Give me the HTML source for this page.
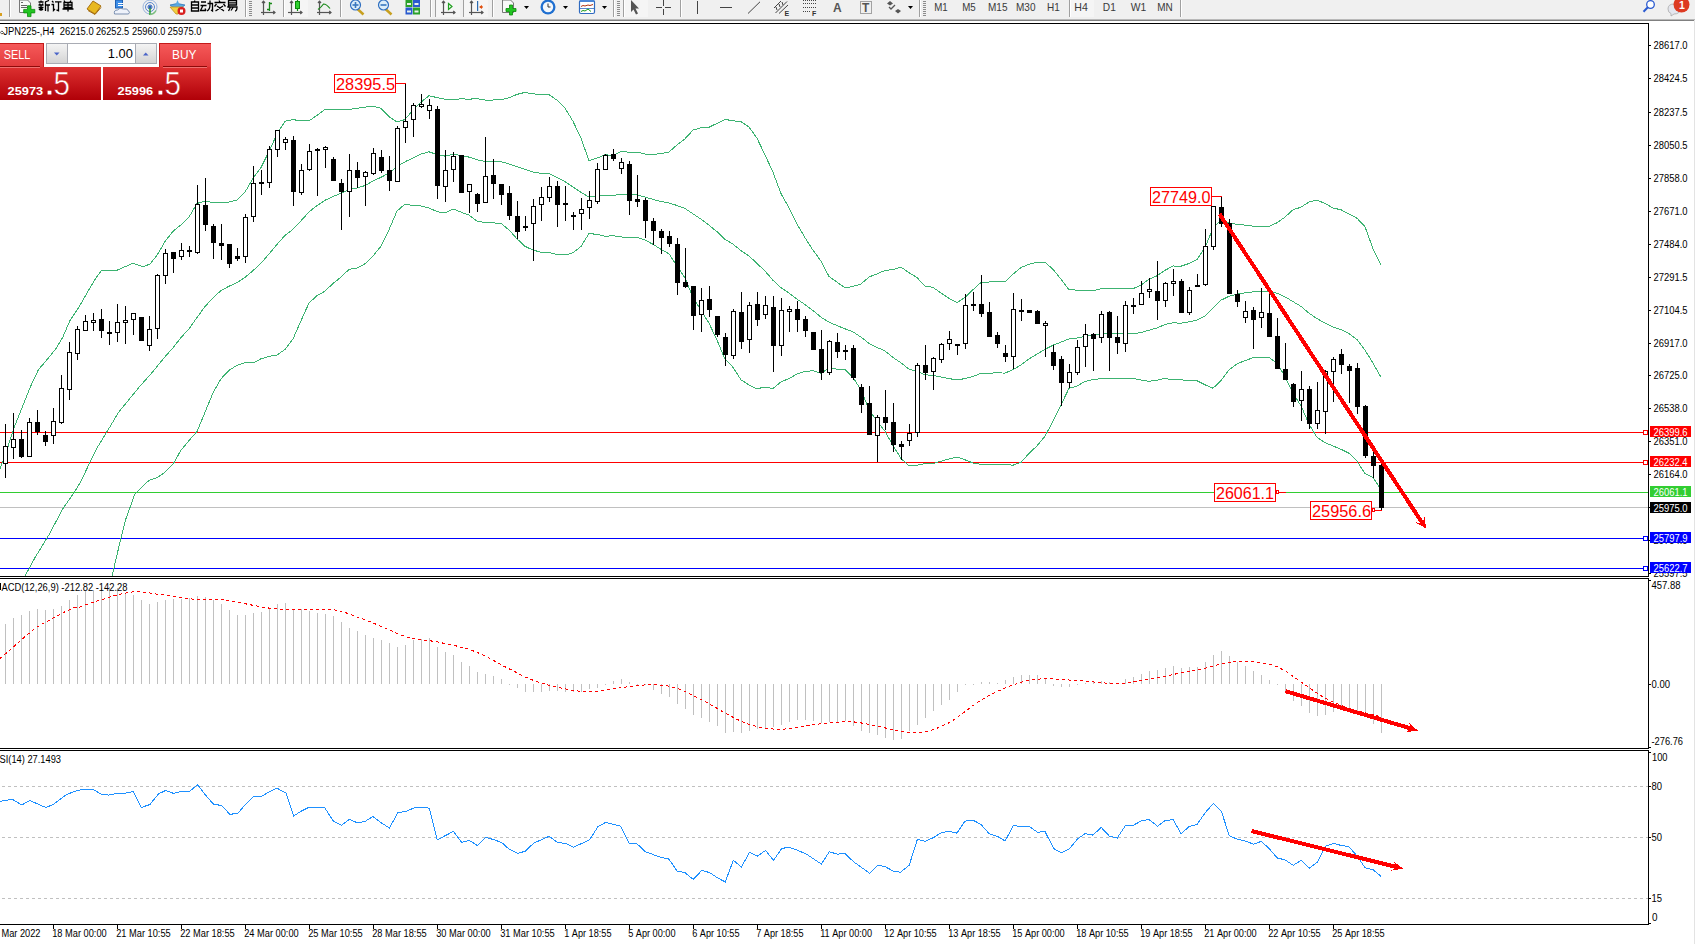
<!DOCTYPE html><html><head><meta charset="utf-8"><style>
html,body{margin:0;padding:0;background:#fff;overflow:hidden;width:1695px;height:944px}
svg{position:absolute;left:0;top:0;display:block}
text{font-family:"Liberation Sans", sans-serif}
</style></head><body>
<svg width="1695" height="944" viewBox="0 0 1695 944">
<rect x="0" y="0" width="1695" height="944" fill="#ffffff"/>
<defs><clipPath id="cMain"><rect x="0" y="24" width="1648" height="552"/></clipPath><clipPath id="cMacd"><rect x="0" y="579" width="1648" height="169"/></clipPath><clipPath id="cRsi"><rect x="0" y="751" width="1648" height="173"/></clipPath></defs>
<g id="toolbar">
<rect x="0" y="0" width="1695" height="19" fill="#f0f0f0"/>
<rect x="0" y="19" width="1695" height="1" fill="#b9b9b9"/>
<rect x="0" y="20" width="1695" height="1" fill="#808080"/>
<g shape-rendering="crispEdges">
<rect x="0" y="13" width="2" height="3" fill="#d8a020"/>
<rect x="9" y="0" width="1" height="17" fill="#a0a0a0"/><rect x="10" y="0" width="1" height="17" fill="#ffffff"/>
<rect x="245" y="0" width="1" height="17" fill="#a0a0a0"/><rect x="246" y="0" width="1" height="17" fill="#ffffff"/>
<rect x="249" y="1" width="3" height="1" fill="#8c8c8c"/>
<rect x="249" y="3" width="3" height="1" fill="#8c8c8c"/>
<rect x="249" y="5" width="3" height="1" fill="#8c8c8c"/>
<rect x="249" y="7" width="3" height="1" fill="#8c8c8c"/>
<rect x="249" y="9" width="3" height="1" fill="#8c8c8c"/>
<rect x="249" y="11" width="3" height="1" fill="#8c8c8c"/>
<rect x="249" y="13" width="3" height="1" fill="#8c8c8c"/>
<rect x="249" y="15" width="3" height="1" fill="#8c8c8c"/>
<rect x="283" y="0" width="1" height="17" fill="#a0a0a0"/><rect x="284" y="0" width="1" height="17" fill="#ffffff"/>
<rect x="340" y="0" width="1" height="17" fill="#a0a0a0"/><rect x="341" y="0" width="1" height="17" fill="#ffffff"/>
<rect x="430" y="0" width="1" height="17" fill="#a0a0a0"/><rect x="431" y="0" width="1" height="17" fill="#ffffff"/>
<rect x="435" y="0" width="1" height="17" fill="#a0a0a0"/><rect x="436" y="0" width="1" height="17" fill="#ffffff"/>
<rect x="463" y="0" width="1" height="17" fill="#a0a0a0"/><rect x="464" y="0" width="1" height="17" fill="#ffffff"/>
<rect x="492" y="0" width="1" height="17" fill="#a0a0a0"/><rect x="493" y="0" width="1" height="17" fill="#ffffff"/>
<rect x="613" y="0" width="1" height="17" fill="#a0a0a0"/><rect x="614" y="0" width="1" height="17" fill="#ffffff"/>
<rect x="617" y="1" width="3" height="1" fill="#8c8c8c"/>
<rect x="617" y="3" width="3" height="1" fill="#8c8c8c"/>
<rect x="617" y="5" width="3" height="1" fill="#8c8c8c"/>
<rect x="617" y="7" width="3" height="1" fill="#8c8c8c"/>
<rect x="617" y="9" width="3" height="1" fill="#8c8c8c"/>
<rect x="617" y="11" width="3" height="1" fill="#8c8c8c"/>
<rect x="617" y="13" width="3" height="1" fill="#8c8c8c"/>
<rect x="617" y="15" width="3" height="1" fill="#8c8c8c"/>
<rect x="623" y="0" width="1" height="17" fill="#a0a0a0"/><rect x="624" y="0" width="1" height="17" fill="#ffffff"/>
<rect x="680" y="0" width="1" height="17" fill="#a0a0a0"/><rect x="681" y="0" width="1" height="17" fill="#ffffff"/>
<rect x="919" y="0" width="1" height="17" fill="#a0a0a0"/><rect x="920" y="0" width="1" height="17" fill="#ffffff"/>
<rect x="923" y="1" width="3" height="1" fill="#8c8c8c"/>
<rect x="923" y="3" width="3" height="1" fill="#8c8c8c"/>
<rect x="923" y="5" width="3" height="1" fill="#8c8c8c"/>
<rect x="923" y="7" width="3" height="1" fill="#8c8c8c"/>
<rect x="923" y="9" width="3" height="1" fill="#8c8c8c"/>
<rect x="923" y="11" width="3" height="1" fill="#8c8c8c"/>
<rect x="923" y="13" width="3" height="1" fill="#8c8c8c"/>
<rect x="923" y="15" width="3" height="1" fill="#8c8c8c"/>
<rect x="1069" y="0" width="1" height="17" fill="#a0a0a0"/><rect x="1070" y="0" width="1" height="17" fill="#ffffff"/>
<rect x="1180" y="0" width="1" height="17" fill="#a0a0a0"/><rect x="1181" y="0" width="1" height="17" fill="#ffffff"/>
</g>
<rect x="285" y="0" width="23" height="17" fill="#f5f5f5"/>
<rect x="436" y="0" width="24" height="17" fill="#f5f5f5"/>
<rect x="464" y="0" width="24" height="17" fill="#f5f5f5"/>
<rect x="625" y="0" width="23" height="17" fill="#f5f5f5"/>
<rect x="1071" y="0" width="23" height="17" fill="#f5f5f5"/>
<path d="M19.5,0 h8 l3,3 v9.5 h-11 z" fill="#fafafa" stroke="#777" stroke-width="1"/>
<g fill="#666"><rect x="21" y="2" width="2" height="1"/><rect x="21" y="5" width="6" height="1"/><rect x="21" y="7" width="6" height="1"/></g>
<path d="M27.5,5.8 h3.5 v3.6 h3.8 v3.5 h-3.8 v3.7 h-3.5 v-3.7 h-3.8 v-3.5 h3.8 z" fill="#22c422" stroke="#0a8a0a" stroke-width="0.8"/>
<g stroke="#000" stroke-width="1.3" fill="none">
<path d="M38.5,2 h5 M41,0.5 v2 M38.5,5 h5 M39.5,3.5 l1,1.5 M43,3.5 l-1,1.5 M38.5,7.5 h5 M41,5 v6 M39,10 l2,-2 l2,2 M45,2 l4,-1.5 M45.5,2 v9 M45.5,5 h4.5 M48,5 v6.5"/>
<path d="M52,1 l1.5,1.5 M51.5,4.5 h2 v6 l1.5,-1.5 M55,1.8 h6.5 M58.5,1.8 v9 l-2,-1"/>
<path d="M64,0.5 l1,1.5 M71,0.5 l-1,1.5 M64,2.5 h8 v5 h-8 z M64,5 h8 M68,2.5 v9 M62.5,9 h11"/>
</g>
<path d="M87,9 l6,-8 l8,5 l-6,8 z" fill="#e8b820" stroke="#a87010" stroke-width="1"/>
<path d="M88,10.5 l7,4 l6,-7" fill="none" stroke="#a87010" stroke-width="1"/>
<rect x="115.5" y="0" width="7" height="8" fill="#3d8ee8" stroke="#1f5fb0" stroke-width="1"/>
<rect x="118" y="3" width="5" height="1" fill="#fff"/><rect x="118" y="5" width="5" height="1" fill="#fff"/>
<path d="M114.5,14 q-1,-4 3,-4 q2,-3 6,-1 q4,-1 5,2 q2,1 0,3 z" fill="#eef2fa" stroke="#7a8fb0" stroke-width="1"/>
<g fill="none" stroke-width="1">
<circle cx="150" cy="7" r="7" stroke="#9ab4dc"/><circle cx="150" cy="7" r="4.5" stroke="#5a86cc"/><circle cx="150" cy="7" r="2" stroke="#2b5fb8"/>
<path d="M150,7 v8" stroke="#2aa02a" stroke-width="1.5"/><path d="M150,14.5 a7,7 0 0 0 6,-4" stroke="#7cc07c" stroke-width="1.5"/>
</g>
<circle cx="150" cy="7" r="1.2" fill="#2b5fb8"/>
<path d="M170,5 q7,-3 15,0 q-2,3 -7.5,3 q-5.5,0 -7.5,-3 z" fill="#5aa8e0" stroke="#3a7ab8" stroke-width="0.8"/>
<path d="M175.5,4.5 l2,-4.5 l2,4.5 z" fill="#5aa8e0"/>
<path d="M170,7 h13 l-5,7 h-2 z" fill="#f0d040" stroke="#c09020" stroke-width="0.8"/>
<circle cx="181.5" cy="11" r="4" fill="#d82020"/><rect x="180" y="9.5" width="3" height="3" fill="#fff"/>
<g stroke="#000" stroke-width="1.3" fill="none">
<path d="M195,0.5 l-1,1.5 M191.5,2 h7 v9 h-7 z M191.5,5 h7 M191.5,8 h7"/>
<path d="M201,2 h5 M200.5,5.5 h6 M203,5.5 l-2.5,5 h5.5 M205,8.5 l1,2 M207.5,3.5 h5 v7.5 l-1.5,-1 M210,0.5 v4 q0,5 -3,6.5"/>
<path d="M219,0.5 l1,1.5 M214.5,2.5 h11 M216.5,4 l-2,2.5 M223.5,4 l2,2.5 M217,6 l7,5 M223,6 l-7.5,5"/>
<path d="M228.5,0.5 h8 v4.5 h-8 z M228.5,2.8 h8 M229,5.5 l-1.5,2 M228,7 h9 q0,4 -2,4 M230.5,7 l-2,4 M233,7.5 l-2,3"/>
</g>
<g stroke="#555" stroke-width="1.2" fill="none"><line x1="263.5" y1="1.5" x2="263.5" y2="15"/><line x1="261.0" y1="12.5" x2="275.0" y2="12.5"/><polyline points="262.0,3 263.5,1.2 265.0,3"/><polyline points="273.2,11.0 275.0,12.5 273.2,14.0"/></g>
<g stroke="#1a8a1a" stroke-width="1.3" fill="none"><path d="M269.5,2 v9 M269.5,3.5 h2.5 M267,9.5 h2.5"/></g>
<g stroke="#555" stroke-width="1.2" fill="none"><line x1="291.5" y1="1.5" x2="291.5" y2="15"/><line x1="288.0" y1="12.5" x2="302.0" y2="12.5"/><polyline points="290.0,3 291.5,1.2 293.0,3"/><polyline points="300.2,11.0 302.0,12.5 300.2,14.0"/></g>
<rect x="295.5" y="1.5" width="4" height="7" fill="#30d030" stroke="#0a8a0a" stroke-width="1"/><path d="M297.5,0 v1.5 M297.5,8.5 v2.5" stroke="#0a8a0a" stroke-width="1.2"/>
<g stroke="#555" stroke-width="1.2" fill="none"><line x1="319.5" y1="1.5" x2="319.5" y2="15"/><line x1="317.0" y1="12.5" x2="331.0" y2="12.5"/><polyline points="318.0,3 319.5,1.2 321.0,3"/><polyline points="329.2,11.0 331.0,12.5 329.2,14.0"/></g>
<path d="M318,9.5 q3,-2 5.5,-5.5 q3,0 6.5,4.5" fill="none" stroke="#1a8a1a" stroke-width="1.2"/>
<path d="M357.5,9 l6,5.5" stroke="#c8a020" stroke-width="2.5"/>
<circle cx="355.5" cy="5" r="5" fill="#dceefa" stroke="#2f6fc0" stroke-width="1.2"/>
<rect x="352.5" y="4.2" width="6" height="1.6" fill="#3a78c0"/>
<rect x="354.7" y="2" width="1.6" height="6" fill="#3a78c0"/>
<path d="M385.5,9 l6,5.5" stroke="#c8a020" stroke-width="2.5"/>
<circle cx="383.5" cy="5" r="5" fill="#dceefa" stroke="#2f6fc0" stroke-width="1.2"/>
<rect x="380.5" y="4.2" width="6" height="1.6" fill="#3a78c0"/>
<rect x="405.5" y="0" width="7" height="7" fill="#2aa02a"/><rect x="413" y="0" width="7" height="7" fill="#2a5ad0"/><rect x="405.5" y="7.5" width="7" height="7" fill="#2a5ad0"/><rect x="413" y="7.5" width="7" height="7" fill="#2aa02a"/>
<g fill="#eaf2ea"><rect x="407" y="3" width="4" height="2"/><rect x="414.5" y="3" width="4" height="2"/><rect x="407" y="10.5" width="4" height="2"/><rect x="414.5" y="10.5" width="4" height="2"/></g>
<g stroke="#555" stroke-width="1.2" fill="none"><line x1="443.5" y1="1.5" x2="443.5" y2="15"/><line x1="441.0" y1="12.5" x2="455.0" y2="12.5"/><polyline points="442.0,3 443.5,1.2 445.0,3"/><polyline points="453.2,11.0 455.0,12.5 453.2,14.0"/></g>
<path d="M448.5,3.5 l3.5,3 l-3.5,3 z" fill="none" stroke="#20a020" stroke-width="1.2"/>
<g stroke="#555" stroke-width="1.2" fill="none"><line x1="471.5" y1="1.5" x2="471.5" y2="15"/><line x1="469.0" y1="12.5" x2="483.0" y2="12.5"/><polyline points="470.0,3 471.5,1.2 473.0,3"/><polyline points="481.2,11.0 483.0,12.5 481.2,14.0"/></g>
<rect x="477" y="1" width="1.2" height="10" fill="#2a6ab0"/><path d="M479,7 l3,-2 v4 z" fill="#e05010"/><rect x="480" y="6.4" width="3" height="1.2" fill="#e05010"/>
<path d="M502.5,0 h8 l3,3 v9.5 h-11 z" fill="#fafafa" stroke="#777" stroke-width="1"/>
<path d="M509.5,5 h3 v3.5 h3.5 v3 h-3.5 v3.5 h-3 v-3.5 h-3.5 v-3 h3.5 z" fill="#22c422" stroke="#0a8a0a" stroke-width="0.8"/>
<polygon points="524.0,6 529.0,6 526.5,9" fill="#000"/>
<circle cx="548" cy="7" r="7.5" fill="#1f6fd0"/><circle cx="548" cy="7" r="5.2" fill="#f4f8fc"/><path d="M548,3.5 v3.5 h2.5" fill="none" stroke="#333" stroke-width="1"/>
<polygon points="563.0,6 568.0,6 565.5,9" fill="#000"/>
<rect x="579.5" y="0.5" width="15" height="13" rx="1.5" fill="#fff" stroke="#2f6ac0" stroke-width="1.2"/><rect x="580" y="0" width="14" height="2" fill="#4a86d8"/>
<path d="M581,6.5 l2,-1 l2,0.5 l3,-1 l2,0.5 l3,-1" fill="none" stroke="#b03010" stroke-width="1"/><rect x="580" y="8" width="14" height="0.8" fill="#2f6ac0"/><path d="M581,11.5 l2,-1 l2,0.5 l3,-2 l3,2.5" fill="none" stroke="#1a9a1a" stroke-width="1"/>
<polygon points="602.0,6 607.0,6 604.5,9" fill="#000"/>
<path d="M631,0 l0,12 l2.5,-2.5 l2.5,5 l2,-1 l-2.5,-5 l3.5,0 z" fill="#555"/>
<g shape-rendering="crispEdges"><rect x="656" y="7" width="6" height="1" fill="#444"/><rect x="665" y="7" width="6" height="1" fill="#444"/><rect x="663" y="0" width="1" height="6" fill="#444"/><rect x="663" y="9" width="1" height="6" fill="#444"/></g>
<g shape-rendering="crispEdges"><rect x="697" y="1" width="1" height="13" fill="#444"/><rect x="720" y="7" width="12" height="1" fill="#444"/></g>
<line x1="748" y1="13.5" x2="760" y2="1.8" stroke="#444" stroke-width="1"/>
<g stroke="#444" stroke-width="1" fill="none"><line x1="774" y1="8" x2="781" y2="1"/><line x1="775.5" y1="13" x2="787" y2="1.5"/><line x1="779" y1="13.5" x2="788" y2="5"/>
<path d="M776,7 l1,3 M779,4 l1,3 M782,2 l1,3"/></g>
<text x="784.5" y="15.5" font-size="7" font-weight="bold" fill="#333">E</text>
<g fill="#444" shape-rendering="crispEdges">
<rect x="803" y="0" width="1" height="1"/>
<rect x="805" y="0" width="1" height="1"/>
<rect x="807" y="0" width="1" height="1"/>
<rect x="809" y="0" width="1" height="1"/>
<rect x="811" y="0" width="1" height="1"/>
<rect x="813" y="0" width="1" height="1"/>
<rect x="815" y="0" width="1" height="1"/>
<rect x="803" y="3" width="1" height="1"/>
<rect x="805" y="3" width="1" height="1"/>
<rect x="807" y="3" width="1" height="1"/>
<rect x="809" y="3" width="1" height="1"/>
<rect x="811" y="3" width="1" height="1"/>
<rect x="813" y="3" width="1" height="1"/>
<rect x="815" y="3" width="1" height="1"/>
<rect x="803" y="7" width="1" height="1"/>
<rect x="805" y="7" width="1" height="1"/>
<rect x="807" y="7" width="1" height="1"/>
<rect x="809" y="7" width="1" height="1"/>
<rect x="811" y="7" width="1" height="1"/>
<rect x="813" y="7" width="1" height="1"/>
<rect x="815" y="7" width="1" height="1"/>
<rect x="803" y="11" width="1" height="1"/>
<rect x="805" y="11" width="1" height="1"/>
<rect x="807" y="11" width="1" height="1"/>
<rect x="809" y="11" width="1" height="1"/>
</g>
<text x="812" y="16" font-size="7" font-weight="bold" fill="#333">F</text>
<text x="833" y="12" font-size="12" font-weight="bold" fill="#555">A</text>
<rect x="860.5" y="1.5" width="11" height="12" fill="none" stroke="#555" stroke-width="1" stroke-dasharray="1,1"/>
<text x="862" y="12" font-size="12" font-weight="bold" fill="#555">T</text>
<path d="M887,3.5 l3,-2.5 l3,2.5 l-3,2 z M895,11 l3,-2 l3,2 l-3,2.5 z" fill="#555"/><path d="M889,7 l2,2 l4,-4" fill="none" stroke="#555" stroke-width="1.3"/>
<polygon points="908.0,6 913.0,6 910.5,9" fill="#000"/>
<text x="934.2" y="11" font-size="10.5" fill="#3a3a3a" textLength="13.5" lengthAdjust="spacingAndGlyphs">M1</text>
<text x="962.2" y="11" font-size="10.5" fill="#3a3a3a" textLength="13.5" lengthAdjust="spacingAndGlyphs">M5</text>
<text x="988.0" y="11" font-size="10.5" fill="#3a3a3a" textLength="19.5" lengthAdjust="spacingAndGlyphs">M15</text>
<text x="1016.0" y="11" font-size="10.5" fill="#3a3a3a" textLength="19.5" lengthAdjust="spacingAndGlyphs">M30</text>
<text x="1047.0" y="11" font-size="10.5" fill="#3a3a3a" textLength="12.8" lengthAdjust="spacingAndGlyphs">H1</text>
<text x="1074.3" y="11" font-size="10.5" fill="#3a3a3a" textLength="13.5" lengthAdjust="spacingAndGlyphs">H4</text>
<text x="1102.8" y="11" font-size="10.5" fill="#3a3a3a" textLength="13.0" lengthAdjust="spacingAndGlyphs">D1</text>
<text x="1130.8" y="11" font-size="10.5" fill="#3a3a3a" textLength="15.5" lengthAdjust="spacingAndGlyphs">W1</text>
<text x="1157.3" y="11" font-size="10.5" fill="#3a3a3a" textLength="15.5" lengthAdjust="spacingAndGlyphs">MN</text>
<circle cx="1650.5" cy="4.5" r="3.8" fill="#fff" stroke="#2a5ad0" stroke-width="1.3"/><line x1="1647.8" y1="7.3" x2="1643.5" y2="11.8" stroke="#2a5ad0" stroke-width="2"/>
<path d="M1668,9 q0,-5 6,-5 q6,0 6,5 q0,5 -6,5 l-3,2 l0,-2.5 q-3,-1 -3,-4.5 z" fill="#e4e6ee" stroke="#aaa" stroke-width="0.8"/>
<circle cx="1681.5" cy="4.6" r="8" fill="#dd3a22"/>
<text x="1679" y="9" font-size="10.5" font-weight="bold" font-family="Liberation Serif, serif" fill="#fff">1</text>
</g>
<g shape-rendering="crispEdges">
<rect x="0" y="23" width="1649" height="1" fill="#000"/>
<rect x="1648" y="23" width="1" height="554" fill="#000"/>
<rect x="0" y="576" width="1649" height="1" fill="#000"/>
<rect x="0" y="578" width="1649" height="1" fill="#000"/>
<rect x="1648" y="578" width="1" height="171" fill="#000"/>
<rect x="0" y="748" width="1649" height="1" fill="#000"/>
<rect x="0" y="750" width="1649" height="1" fill="#000"/>
<rect x="1648" y="750" width="1" height="175" fill="#000"/>
<rect x="0" y="924" width="1649" height="1" fill="#000"/>
<rect x="1694" y="20" width="1" height="924" fill="#e3e3e3"/>
</g>
<g shape-rendering="crispEdges">
<rect x="1649" y="45" width="2" height="1" fill="#000"/>
<rect x="1649" y="78" width="2" height="1" fill="#000"/>
<rect x="1649" y="112" width="2" height="1" fill="#000"/>
<rect x="1649" y="145" width="2" height="1" fill="#000"/>
<rect x="1649" y="178" width="2" height="1" fill="#000"/>
<rect x="1649" y="211" width="2" height="1" fill="#000"/>
<rect x="1649" y="244" width="2" height="1" fill="#000"/>
<rect x="1649" y="277" width="2" height="1" fill="#000"/>
<rect x="1649" y="310" width="2" height="1" fill="#000"/>
<rect x="1649" y="343" width="2" height="1" fill="#000"/>
<rect x="1649" y="375" width="2" height="1" fill="#000"/>
<rect x="1649" y="408" width="2" height="1" fill="#000"/>
<rect x="1649" y="441" width="2" height="1" fill="#000"/>
<rect x="1649" y="474" width="2" height="1" fill="#000"/>
<rect x="1649" y="507" width="2" height="1" fill="#000"/>
<rect x="1649" y="540" width="2" height="1" fill="#000"/>
<rect x="1649" y="573" width="2" height="1" fill="#000"/>
</g>
<text x="1653.5" y="49.0" font-size="10" fill="#000" textLength="34.0" lengthAdjust="spacingAndGlyphs" >28617.0</text>
<text x="1653.5" y="82.0" font-size="10" fill="#000" textLength="34.0" lengthAdjust="spacingAndGlyphs" >28424.5</text>
<text x="1653.5" y="116.0" font-size="10" fill="#000" textLength="34.0" lengthAdjust="spacingAndGlyphs" >28237.5</text>
<text x="1653.5" y="149.0" font-size="10" fill="#000" textLength="34.0" lengthAdjust="spacingAndGlyphs" >28050.5</text>
<text x="1653.5" y="182.0" font-size="10" fill="#000" textLength="34.0" lengthAdjust="spacingAndGlyphs" >27858.0</text>
<text x="1653.5" y="215.0" font-size="10" fill="#000" textLength="34.0" lengthAdjust="spacingAndGlyphs" >27671.0</text>
<text x="1653.5" y="248.0" font-size="10" fill="#000" textLength="34.0" lengthAdjust="spacingAndGlyphs" >27484.0</text>
<text x="1653.5" y="281.0" font-size="10" fill="#000" textLength="34.0" lengthAdjust="spacingAndGlyphs" >27291.5</text>
<text x="1653.5" y="314.0" font-size="10" fill="#000" textLength="34.0" lengthAdjust="spacingAndGlyphs" >27104.5</text>
<text x="1653.5" y="347.0" font-size="10" fill="#000" textLength="34.0" lengthAdjust="spacingAndGlyphs" >26917.0</text>
<text x="1653.5" y="379.0" font-size="10" fill="#000" textLength="34.0" lengthAdjust="spacingAndGlyphs" >26725.0</text>
<text x="1653.5" y="412.0" font-size="10" fill="#000" textLength="34.0" lengthAdjust="spacingAndGlyphs" >26538.0</text>
<text x="1653.5" y="445.0" font-size="10" fill="#000" textLength="34.0" lengthAdjust="spacingAndGlyphs" >26351.0</text>
<text x="1653.5" y="478.0" font-size="10" fill="#000" textLength="34.0" lengthAdjust="spacingAndGlyphs" >26164.0</text>
<text x="1653.5" y="511.0" font-size="10" fill="#000" textLength="34.0" lengthAdjust="spacingAndGlyphs" >25977.0</text>
<text x="1653.5" y="544.0" font-size="10" fill="#000" textLength="34.0" lengthAdjust="spacingAndGlyphs" >25784.5</text>
<text x="1653.5" y="577.0" font-size="10" fill="#000" textLength="34.0" lengthAdjust="spacingAndGlyphs" >25597.5</text>
<g shape-rendering="crispEdges">
<rect x="0" y="432" width="1648" height="1" fill="#ff0000"/>
<rect x="1643.5" y="430.5" width="4" height="4" fill="#fff" stroke="#ff0000" stroke-width="1"/>
<rect x="1650" y="426" width="41" height="11" fill="#ff0000"/>
<rect x="0" y="462" width="1648" height="1" fill="#ff0000"/>
<rect x="1643.5" y="460.5" width="4" height="4" fill="#fff" stroke="#ff0000" stroke-width="1"/>
<rect x="1650" y="456" width="41" height="11" fill="#ff0000"/>
<rect x="0" y="492" width="1648" height="1" fill="#32cd32"/>
<rect x="1650" y="486" width="41" height="11" fill="#32cd32"/>
<rect x="0" y="507" width="1648" height="1" fill="#c0c0c0"/>
<rect x="1650" y="502" width="41" height="11" fill="#000"/>
<rect x="0" y="538" width="1648" height="1" fill="#0000ff"/>
<rect x="1643.5" y="536.5" width="4" height="4" fill="#fff" stroke="#0000ff" stroke-width="1"/>
<rect x="1650" y="532" width="41" height="11" fill="#0000ff"/>
<rect x="0" y="568" width="1648" height="1" fill="#0000ff"/>
<rect x="1643.5" y="566.5" width="4" height="4" fill="#fff" stroke="#0000ff" stroke-width="1"/>
<rect x="1650" y="562" width="41" height="11" fill="#0000ff"/>
</g>
<text x="1653.5" y="436.0" font-size="10" fill="#fff" textLength="34.0" lengthAdjust="spacingAndGlyphs" >26399.6</text>
<text x="1653.5" y="466.0" font-size="10" fill="#fff" textLength="34.0" lengthAdjust="spacingAndGlyphs" >26232.4</text>
<text x="1653.5" y="496.0" font-size="10" fill="#fff" textLength="34.0" lengthAdjust="spacingAndGlyphs" >26061.1</text>
<text x="1653.5" y="512.0" font-size="10" fill="#fff" textLength="34.0" lengthAdjust="spacingAndGlyphs" >25975.0</text>
<text x="1653.5" y="542.0" font-size="10" fill="#fff" textLength="34.0" lengthAdjust="spacingAndGlyphs" >25797.9</text>
<text x="1653.5" y="572.0" font-size="10" fill="#fff" textLength="34.0" lengthAdjust="spacingAndGlyphs" >25622.7</text>
<g clip-path="url(#cMain)">
<polyline points="0.0,468.6 5.8,453.5 14.0,427.8 23.3,404.5 30.3,387.0 38.5,369.6 46.6,360.2 55.9,348.6 62.9,336.9 69.9,320.6 79.3,306.6 88.6,290.3 95.6,278.6 101.4,270.5 115.3,271.0 132.8,263.3 143.3,266.8 150.0,264.0 157.0,255.3 165.0,241.5 173.0,231.3 181.0,224.8 189.0,217.1 197.0,203.5 205.0,201.0 213.0,202.5 221.0,202.4 229.0,202.0 237.0,200.1 245.0,192.1 253.0,178.3 261.0,167.5 269.0,151.7 277.0,133.7 285.0,121.3 293.0,119.6 301.0,120.9 309.0,120.8 317.0,115.4 325.0,109.4 333.0,109.2 341.0,109.8 349.0,109.5 357.0,108.3 365.0,107.2 373.0,106.1 381.0,108.3 389.0,116.6 397.0,122.1 405.0,119.5 413.0,110.1 421.0,102.1 429.0,95.7 437.0,97.6 445.0,99.2 453.0,99.8 461.0,98.8 469.0,99.2 477.0,98.6 485.0,100.0 493.0,100.0 501.0,99.8 509.0,97.8 517.0,94.4 525.0,92.4 533.0,93.9 541.0,94.4 549.0,94.6 557.0,100.2 565.0,108.1 573.0,121.3 581.0,138.2 589.0,160.6 597.0,158.1 605.0,154.8 613.0,155.4 621.0,151.3 629.0,152.3 637.0,152.2 645.0,154.0 653.0,154.4 661.0,153.7 669.0,152.0 677.0,144.9 685.0,138.8 693.0,130.1 701.0,127.7 709.0,127.2 717.0,123.4 725.0,119.4 733.0,120.8 741.0,121.6 749.0,127.0 757.0,138.2 765.0,154.9 773.0,172.2 781.0,193.6 789.0,207.7 797.0,224.1 805.0,237.7 813.0,250.2 821.0,261.1 829.0,276.5 837.0,282.1 845.0,287.9 853.0,286.4 861.0,284.0 869.0,277.0 877.0,273.9 885.0,270.4 893.0,269.6 901.0,267.1 909.0,272.7 917.0,277.6 925.0,286.1 933.0,287.4 941.0,293.0 949.0,298.4 957.0,302.6 965.0,297.4 973.0,289.7 981.0,282.5 989.0,282.0 997.0,281.1 1005.0,281.7 1013.0,274.2 1021.0,267.5 1029.0,264.3 1037.0,262.4 1045.0,262.1 1053.0,269.4 1061.0,279.2 1069.0,289.7 1077.0,290.1 1085.0,290.8 1093.0,290.9 1101.0,288.7 1109.0,288.6 1117.0,288.6 1125.0,288.6 1133.0,288.7 1141.0,285.1 1149.0,279.1 1157.0,275.8 1165.0,270.3 1173.0,266.0 1181.0,266.2 1189.0,263.5 1197.0,259.4 1205.0,247.5 1213.0,228.2 1221.0,219.8 1229.0,222.9 1237.0,224.3 1245.0,225.1 1253.0,226.2 1261.0,226.2 1269.0,226.3 1277.0,222.8 1285.0,217.1 1293.0,209.8 1301.0,207.2 1309.0,202.0 1317.0,200.0 1325.0,203.5 1333.0,208.0 1341.0,209.8 1349.0,214.0 1357.0,218.2 1365.0,226.7 1373.0,248.7 1381.0,265.3" fill="none" stroke="#3cb371" stroke-width="1" shape-rendering="crispEdges" />
<polyline points="24.5,577.0 35.0,557.6 48.9,534.9 62.9,508.6 75.1,491.2 81.6,480.0 88.6,465.1 97.9,446.5 110.0,426.7 118.8,412.0 139.8,386.3 150.0,375.0 157.0,366.5 165.0,356.8 173.0,347.8 181.0,337.5 189.0,328.9 197.0,317.5 205.0,306.6 213.0,297.7 221.0,290.6 229.0,286.2 237.0,282.6 245.0,277.4 253.0,270.6 261.0,263.2 269.0,254.0 277.0,244.4 285.0,235.4 293.0,229.3 301.0,220.8 309.0,211.9 317.0,205.6 325.0,200.3 333.0,196.4 341.0,193.4 349.0,189.4 357.0,188.1 365.0,185.5 373.0,181.0 381.0,177.3 389.0,173.1 397.0,166.6 405.0,161.8 413.0,157.9 421.0,154.0 429.0,151.8 437.0,154.6 445.0,156.1 453.0,154.3 461.0,155.5 469.0,157.1 477.0,159.8 485.0,161.3 493.0,161.4 501.0,161.6 509.0,163.9 517.0,166.6 525.0,169.3 533.0,172.0 541.0,173.3 549.0,173.6 557.0,177.4 565.0,181.6 573.0,187.1 581.0,192.3 589.0,197.1 597.0,196.2 605.0,195.5 613.0,195.6 621.0,194.1 629.0,194.9 637.0,194.8 645.0,197.0 653.0,199.4 661.0,201.5 669.0,202.9 677.0,205.5 685.0,208.4 693.0,213.9 701.0,219.1 709.0,225.2 717.0,231.7 725.0,239.3 733.0,244.1 741.0,250.7 749.0,255.9 757.0,263.5 765.0,271.0 773.0,280.3 781.0,287.7 789.0,293.1 797.0,299.1 805.0,304.6 813.0,310.5 821.0,317.2 829.0,322.1 837.0,325.6 845.0,328.8 853.0,331.9 861.0,337.1 869.0,343.3 877.0,347.4 885.0,350.9 893.0,357.5 901.0,362.8 909.0,369.2 917.0,371.4 925.0,374.8 933.0,375.4 941.0,377.1 949.0,378.6 957.0,379.9 965.0,378.6 973.0,376.4 981.0,373.4 989.0,373.2 997.0,372.8 1005.0,373.1 1013.0,369.7 1021.0,364.9 1029.0,358.9 1037.0,354.2 1045.0,349.2 1053.0,345.2 1061.0,342.1 1069.0,339.0 1077.0,338.1 1085.0,336.2 1093.0,335.2 1101.0,333.7 1109.0,333.6 1117.0,333.6 1125.0,333.6 1133.0,333.6 1141.0,332.6 1149.0,330.2 1157.0,328.0 1165.0,324.4 1173.0,322.9 1181.0,323.1 1189.0,321.9 1197.0,320.0 1205.0,316.2 1213.0,308.2 1221.0,300.2 1229.0,296.3 1237.0,294.1 1245.0,292.9 1253.0,291.9 1261.0,291.9 1269.0,291.8 1277.0,293.1 1285.0,296.8 1293.0,301.6 1301.0,306.4 1309.0,313.2 1317.0,318.6 1325.0,323.1 1333.0,326.9 1341.0,329.6 1349.0,333.6 1357.0,339.6 1365.0,350.1 1373.0,363.1 1381.0,377.3" fill="none" stroke="#3cb371" stroke-width="1" shape-rendering="crispEdges" />
<polyline points="111.8,577.0 118.8,547.1 125.8,519.1 134.6,494.7 146.8,482.4 150.0,480.0 157.0,477.7 165.0,472.2 173.0,464.3 181.0,450.1 189.0,440.6 197.0,431.5 205.0,412.3 213.0,392.9 221.0,378.8 229.0,370.4 237.0,365.2 245.0,362.8 253.0,362.9 261.0,358.8 269.0,356.4 277.0,355.1 285.0,349.4 293.0,339.0 301.0,320.7 309.0,303.0 317.0,295.7 325.0,291.1 333.0,283.5 341.0,277.1 349.0,269.4 357.0,268.0 365.0,263.8 373.0,256.0 381.0,246.2 389.0,229.7 397.0,211.1 405.0,204.1 413.0,205.7 421.0,205.9 429.0,207.9 437.0,211.6 445.0,213.0 453.0,208.9 461.0,212.1 469.0,215.1 477.0,221.1 485.0,222.6 493.0,222.9 501.0,223.4 509.0,230.0 517.0,238.8 525.0,246.3 533.0,250.1 541.0,252.2 549.0,252.6 557.0,254.6 565.0,255.0 573.0,252.8 581.0,246.4 589.0,233.5 597.0,234.4 605.0,236.2 613.0,235.8 621.0,236.9 629.0,237.5 637.0,237.4 645.0,240.1 653.0,244.3 661.0,249.3 669.0,253.8 677.0,266.0 685.0,278.1 693.0,297.7 701.0,310.4 709.0,323.2 717.0,340.1 725.0,359.1 733.0,367.3 741.0,379.8 749.0,384.9 757.0,388.8 765.0,387.0 773.0,388.5 781.0,381.8 789.0,378.6 797.0,374.0 805.0,371.4 813.0,370.8 821.0,373.4 829.0,367.8 837.0,369.1 845.0,369.6 853.0,377.3 861.0,390.1 869.0,409.7 877.0,421.0 885.0,431.3 893.0,445.5 901.0,458.5 909.0,465.7 917.0,465.3 925.0,463.5 933.0,463.5 941.0,461.3 949.0,458.9 957.0,457.1 965.0,459.8 973.0,463.0 981.0,464.3 989.0,464.4 997.0,464.4 1005.0,464.5 1013.0,465.2 1021.0,462.4 1029.0,453.4 1037.0,445.9 1045.0,436.3 1053.0,421.1 1061.0,404.9 1069.0,388.3 1077.0,386.1 1085.0,381.5 1093.0,379.5 1101.0,378.7 1109.0,378.6 1117.0,378.5 1125.0,378.5 1133.0,378.4 1141.0,380.0 1149.0,381.3 1157.0,380.3 1165.0,378.4 1173.0,379.9 1181.0,379.9 1189.0,380.4 1197.0,380.7 1205.0,384.8 1213.0,388.2 1221.0,380.7 1229.0,369.8 1237.0,363.8 1245.0,360.7 1253.0,357.7 1261.0,357.5 1269.0,357.3 1277.0,363.4 1285.0,376.5 1293.0,393.5 1301.0,405.7 1309.0,424.3 1317.0,437.3 1325.0,442.6 1333.0,445.9 1341.0,449.3 1349.0,453.2 1357.0,461.1 1365.0,473.6 1373.0,477.5 1381.0,489.3" fill="none" stroke="#3cb371" stroke-width="1" shape-rendering="crispEdges" />
</g>
<g shape-rendering="crispEdges">
<rect x="5" y="424" width="1" height="54" fill="#000"/>
<rect x="3.5" y="446.5" width="4" height="17" fill="#fff" stroke="#000" stroke-width="1"/>
<rect x="13" y="413" width="1" height="46" fill="#000"/>
<rect x="11.5" y="439.5" width="4" height="8" fill="#fff" stroke="#000" stroke-width="1"/>
<rect x="21" y="430" width="1" height="28" fill="#000"/>
<rect x="19" y="439" width="5" height="18" fill="#000"/>
<rect x="29" y="418" width="1" height="39" fill="#000"/>
<rect x="27.5" y="422.5" width="4" height="34" fill="#fff" stroke="#000" stroke-width="1"/>
<rect x="37" y="410" width="1" height="25" fill="#000"/>
<rect x="35" y="422" width="5" height="10" fill="#000"/>
<rect x="45" y="431" width="1" height="15" fill="#000"/>
<rect x="43" y="435" width="5" height="7" fill="#000"/>
<rect x="53" y="408" width="1" height="36" fill="#000"/>
<rect x="51.5" y="421.5" width="4" height="14" fill="#fff" stroke="#000" stroke-width="1"/>
<rect x="61" y="375" width="1" height="49" fill="#000"/>
<rect x="59.5" y="388.5" width="4" height="34" fill="#fff" stroke="#000" stroke-width="1"/>
<rect x="69" y="342" width="1" height="58" fill="#000"/>
<rect x="67.5" y="352.5" width="4" height="37" fill="#fff" stroke="#000" stroke-width="1"/>
<rect x="77" y="326" width="1" height="34" fill="#000"/>
<rect x="75.5" y="329.5" width="4" height="24" fill="#fff" stroke="#000" stroke-width="1"/>
<rect x="85" y="315" width="1" height="16" fill="#000"/>
<rect x="83.5" y="321.5" width="4" height="9" fill="#fff" stroke="#000" stroke-width="1"/>
<rect x="93" y="313" width="1" height="18" fill="#000"/>
<rect x="91.5" y="320.5" width="4" height="2" fill="#fff" stroke="#000" stroke-width="1"/>
<rect x="101" y="309" width="1" height="29" fill="#000"/>
<rect x="99" y="319" width="5" height="12" fill="#000"/>
<rect x="109" y="321" width="1" height="24" fill="#000"/>
<rect x="107.5" y="332.5" width="4" height="1" fill="#fff" stroke="#000" stroke-width="1"/>
<rect x="117" y="304" width="1" height="38" fill="#000"/>
<rect x="115.5" y="322.5" width="4" height="10" fill="#fff" stroke="#000" stroke-width="1"/>
<rect x="125" y="306" width="1" height="38" fill="#000"/>
<rect x="123.5" y="320.5" width="4" height="2" fill="#fff" stroke="#000" stroke-width="1"/>
<rect x="133" y="313" width="1" height="22" fill="#000"/>
<rect x="131.5" y="313.5" width="4" height="6" fill="#fff" stroke="#000" stroke-width="1"/>
<rect x="141" y="317" width="1" height="24" fill="#000"/>
<rect x="139" y="317" width="5" height="24" fill="#000"/>
<rect x="149" y="316" width="1" height="35" fill="#000"/>
<rect x="147.5" y="329.5" width="4" height="16" fill="#fff" stroke="#000" stroke-width="1"/>
<rect x="157" y="274" width="1" height="65" fill="#000"/>
<rect x="155.5" y="275.5" width="4" height="53" fill="#fff" stroke="#000" stroke-width="1"/>
<rect x="165" y="249" width="1" height="35" fill="#000"/>
<rect x="163.5" y="253.5" width="4" height="22" fill="#fff" stroke="#000" stroke-width="1"/>
<rect x="173" y="252" width="1" height="21" fill="#000"/>
<rect x="171" y="252" width="5" height="7" fill="#000"/>
<rect x="181" y="243" width="1" height="17" fill="#000"/>
<rect x="179.5" y="250.5" width="4" height="6" fill="#fff" stroke="#000" stroke-width="1"/>
<rect x="189" y="246" width="1" height="11" fill="#000"/>
<rect x="187.5" y="250.5" width="4" height="1" fill="#fff" stroke="#000" stroke-width="1"/>
<rect x="197" y="185" width="1" height="69" fill="#000"/>
<rect x="195.5" y="204.5" width="4" height="48" fill="#fff" stroke="#000" stroke-width="1"/>
<rect x="205" y="178" width="1" height="53" fill="#000"/>
<rect x="203" y="205" width="5" height="20" fill="#000"/>
<rect x="213" y="224" width="1" height="35" fill="#000"/>
<rect x="211" y="226" width="5" height="17" fill="#000"/>
<rect x="221" y="224" width="1" height="36" fill="#000"/>
<rect x="219" y="243" width="5" height="3" fill="#000"/>
<rect x="229" y="244" width="1" height="24" fill="#000"/>
<rect x="227" y="244" width="5" height="20" fill="#000"/>
<rect x="237" y="248" width="1" height="13" fill="#000"/>
<rect x="235" y="256" width="5" height="3" fill="#000"/>
<rect x="245" y="214" width="1" height="49" fill="#000"/>
<rect x="243.5" y="217.5" width="4" height="39" fill="#fff" stroke="#000" stroke-width="1"/>
<rect x="253" y="166" width="1" height="56" fill="#000"/>
<rect x="251.5" y="183.5" width="4" height="33" fill="#fff" stroke="#000" stroke-width="1"/>
<rect x="261" y="170" width="1" height="25" fill="#000"/>
<rect x="259.5" y="182.5" width="4" height="1" fill="#fff" stroke="#000" stroke-width="1"/>
<rect x="269" y="146" width="1" height="42" fill="#000"/>
<rect x="267.5" y="149.5" width="4" height="33" fill="#fff" stroke="#000" stroke-width="1"/>
<rect x="277" y="130" width="1" height="27" fill="#000"/>
<rect x="275.5" y="130.5" width="4" height="19" fill="#fff" stroke="#000" stroke-width="1"/>
<rect x="285" y="137" width="1" height="13" fill="#000"/>
<rect x="283.5" y="139.5" width="4" height="3" fill="#fff" stroke="#000" stroke-width="1"/>
<rect x="293" y="136" width="1" height="70" fill="#000"/>
<rect x="291" y="140" width="5" height="52" fill="#000"/>
<rect x="301" y="164" width="1" height="31" fill="#000"/>
<rect x="299.5" y="170.5" width="4" height="22" fill="#fff" stroke="#000" stroke-width="1"/>
<rect x="309" y="144" width="1" height="27" fill="#000"/>
<rect x="307.5" y="151.5" width="4" height="18" fill="#fff" stroke="#000" stroke-width="1"/>
<rect x="317" y="148" width="1" height="48" fill="#000"/>
<rect x="315.5" y="149.5" width="4" height="1" fill="#fff" stroke="#000" stroke-width="1"/>
<rect x="325" y="146" width="1" height="22" fill="#000"/>
<rect x="323.5" y="147.5" width="4" height="2" fill="#fff" stroke="#000" stroke-width="1"/>
<rect x="333" y="157" width="1" height="24" fill="#000"/>
<rect x="331" y="159" width="5" height="22" fill="#000"/>
<rect x="341" y="179" width="1" height="51" fill="#000"/>
<rect x="339" y="183" width="5" height="9" fill="#000"/>
<rect x="349" y="154" width="1" height="63" fill="#000"/>
<rect x="347.5" y="170.5" width="4" height="21" fill="#fff" stroke="#000" stroke-width="1"/>
<rect x="357" y="162" width="1" height="26" fill="#000"/>
<rect x="355" y="170" width="5" height="8" fill="#000"/>
<rect x="365" y="171" width="1" height="35" fill="#000"/>
<rect x="363.5" y="172.5" width="4" height="4" fill="#fff" stroke="#000" stroke-width="1"/>
<rect x="373" y="148" width="1" height="27" fill="#000"/>
<rect x="371.5" y="153.5" width="4" height="20" fill="#fff" stroke="#000" stroke-width="1"/>
<rect x="381" y="150" width="1" height="23" fill="#000"/>
<rect x="379" y="157" width="5" height="14" fill="#000"/>
<rect x="389" y="156" width="1" height="35" fill="#000"/>
<rect x="387" y="170" width="5" height="11" fill="#000"/>
<rect x="397" y="126" width="1" height="56" fill="#000"/>
<rect x="395.5" y="128.5" width="4" height="53" fill="#fff" stroke="#000" stroke-width="1"/>
<rect x="405" y="83" width="1" height="60" fill="#000"/>
<rect x="403.5" y="121.5" width="4" height="6" fill="#fff" stroke="#000" stroke-width="1"/>
<rect x="413" y="103" width="1" height="34" fill="#000"/>
<rect x="411.5" y="105.5" width="4" height="14" fill="#fff" stroke="#000" stroke-width="1"/>
<rect x="421" y="94" width="1" height="14" fill="#000"/>
<rect x="419.5" y="104.5" width="4" height="2" fill="#fff" stroke="#000" stroke-width="1"/>
<rect x="429" y="99" width="1" height="20" fill="#000"/>
<rect x="427.5" y="105.5" width="4" height="5" fill="#fff" stroke="#000" stroke-width="1"/>
<rect x="437" y="106" width="1" height="93" fill="#000"/>
<rect x="435" y="109" width="5" height="77" fill="#000"/>
<rect x="445" y="150" width="1" height="52" fill="#000"/>
<rect x="443.5" y="170.5" width="4" height="16" fill="#fff" stroke="#000" stroke-width="1"/>
<rect x="453" y="152" width="1" height="30" fill="#000"/>
<rect x="451.5" y="156.5" width="4" height="13" fill="#fff" stroke="#000" stroke-width="1"/>
<rect x="461" y="155" width="1" height="38" fill="#000"/>
<rect x="459" y="155" width="5" height="38" fill="#000"/>
<rect x="469" y="184" width="1" height="29" fill="#000"/>
<rect x="467.5" y="184.5" width="4" height="7" fill="#fff" stroke="#000" stroke-width="1"/>
<rect x="477" y="193" width="1" height="19" fill="#000"/>
<rect x="475" y="194" width="5" height="10" fill="#000"/>
<rect x="485" y="137" width="1" height="66" fill="#000"/>
<rect x="483.5" y="176.5" width="4" height="26" fill="#fff" stroke="#000" stroke-width="1"/>
<rect x="493" y="159" width="1" height="40" fill="#000"/>
<rect x="491" y="175" width="5" height="9" fill="#000"/>
<rect x="501" y="184" width="1" height="21" fill="#000"/>
<rect x="499" y="184" width="5" height="11" fill="#000"/>
<rect x="509" y="186" width="1" height="34" fill="#000"/>
<rect x="507" y="193" width="5" height="23" fill="#000"/>
<rect x="517" y="201" width="1" height="38" fill="#000"/>
<rect x="515" y="216" width="5" height="16" fill="#000"/>
<rect x="525" y="216" width="1" height="15" fill="#000"/>
<rect x="523" y="226" width="5" height="2" fill="#000"/>
<rect x="533" y="199" width="1" height="62" fill="#000"/>
<rect x="531.5" y="206.5" width="4" height="17" fill="#fff" stroke="#000" stroke-width="1"/>
<rect x="541" y="187" width="1" height="34" fill="#000"/>
<rect x="539.5" y="197.5" width="4" height="7" fill="#fff" stroke="#000" stroke-width="1"/>
<rect x="549" y="177" width="1" height="25" fill="#000"/>
<rect x="547.5" y="186.5" width="4" height="11" fill="#fff" stroke="#000" stroke-width="1"/>
<rect x="557" y="181" width="1" height="46" fill="#000"/>
<rect x="555" y="186" width="5" height="19" fill="#000"/>
<rect x="565" y="186" width="1" height="35" fill="#000"/>
<rect x="563" y="203" width="5" height="2" fill="#000"/>
<rect x="573" y="212" width="1" height="18" fill="#000"/>
<rect x="571.5" y="215.5" width="4" height="1" fill="#fff" stroke="#000" stroke-width="1"/>
<rect x="581" y="198" width="1" height="32" fill="#000"/>
<rect x="579.5" y="209.5" width="4" height="4" fill="#fff" stroke="#000" stroke-width="1"/>
<rect x="589" y="191" width="1" height="28" fill="#000"/>
<rect x="587.5" y="200.5" width="4" height="7" fill="#fff" stroke="#000" stroke-width="1"/>
<rect x="597" y="163" width="1" height="41" fill="#000"/>
<rect x="595.5" y="169.5" width="4" height="32" fill="#fff" stroke="#000" stroke-width="1"/>
<rect x="605" y="154" width="1" height="16" fill="#000"/>
<rect x="603.5" y="155.5" width="4" height="14" fill="#fff" stroke="#000" stroke-width="1"/>
<rect x="613" y="149" width="1" height="12" fill="#000"/>
<rect x="611" y="154" width="5" height="5" fill="#000"/>
<rect x="621" y="158" width="1" height="16" fill="#000"/>
<rect x="619.5" y="162.5" width="4" height="6" fill="#fff" stroke="#000" stroke-width="1"/>
<rect x="629" y="161" width="1" height="54" fill="#000"/>
<rect x="627" y="164" width="5" height="37" fill="#000"/>
<rect x="637" y="175" width="1" height="32" fill="#000"/>
<rect x="635" y="199" width="5" height="3" fill="#000"/>
<rect x="645" y="198" width="1" height="40" fill="#000"/>
<rect x="643" y="200" width="5" height="21" fill="#000"/>
<rect x="653" y="218" width="1" height="27" fill="#000"/>
<rect x="651" y="221" width="5" height="10" fill="#000"/>
<rect x="661" y="229" width="1" height="25" fill="#000"/>
<rect x="659" y="231" width="5" height="7" fill="#000"/>
<rect x="669" y="231" width="1" height="16" fill="#000"/>
<rect x="667" y="236" width="5" height="8" fill="#000"/>
<rect x="677" y="238" width="1" height="57" fill="#000"/>
<rect x="675" y="244" width="5" height="39" fill="#000"/>
<rect x="685" y="248" width="1" height="40" fill="#000"/>
<rect x="683" y="282" width="5" height="5" fill="#000"/>
<rect x="693" y="286" width="1" height="44" fill="#000"/>
<rect x="691" y="286" width="5" height="30" fill="#000"/>
<rect x="701" y="288" width="1" height="44" fill="#000"/>
<rect x="699.5" y="300.5" width="4" height="14" fill="#fff" stroke="#000" stroke-width="1"/>
<rect x="709" y="286" width="1" height="31" fill="#000"/>
<rect x="707" y="299" width="5" height="11" fill="#000"/>
<rect x="717" y="316" width="1" height="21" fill="#000"/>
<rect x="715" y="316" width="5" height="19" fill="#000"/>
<rect x="725" y="333" width="1" height="33" fill="#000"/>
<rect x="723" y="337" width="5" height="18" fill="#000"/>
<rect x="733" y="309" width="1" height="50" fill="#000"/>
<rect x="731.5" y="311.5" width="4" height="44" fill="#fff" stroke="#000" stroke-width="1"/>
<rect x="741" y="292" width="1" height="57" fill="#000"/>
<rect x="739" y="312" width="5" height="30" fill="#000"/>
<rect x="749" y="302" width="1" height="51" fill="#000"/>
<rect x="747.5" y="305.5" width="4" height="34" fill="#fff" stroke="#000" stroke-width="1"/>
<rect x="757" y="292" width="1" height="34" fill="#000"/>
<rect x="755" y="304" width="5" height="16" fill="#000"/>
<rect x="765" y="296" width="1" height="23" fill="#000"/>
<rect x="763.5" y="305.5" width="4" height="9" fill="#fff" stroke="#000" stroke-width="1"/>
<rect x="773" y="296" width="1" height="76" fill="#000"/>
<rect x="771" y="307" width="5" height="39" fill="#000"/>
<rect x="781" y="298" width="1" height="58" fill="#000"/>
<rect x="779.5" y="310.5" width="4" height="35" fill="#fff" stroke="#000" stroke-width="1"/>
<rect x="789" y="306" width="1" height="26" fill="#000"/>
<rect x="787.5" y="309.5" width="4" height="2" fill="#fff" stroke="#000" stroke-width="1"/>
<rect x="797" y="301" width="1" height="31" fill="#000"/>
<rect x="795" y="309" width="5" height="11" fill="#000"/>
<rect x="805" y="316" width="1" height="21" fill="#000"/>
<rect x="803" y="319" width="5" height="12" fill="#000"/>
<rect x="813" y="332" width="1" height="18" fill="#000"/>
<rect x="811" y="332" width="5" height="18" fill="#000"/>
<rect x="821" y="330" width="1" height="50" fill="#000"/>
<rect x="819" y="349" width="5" height="24" fill="#000"/>
<rect x="829" y="340" width="1" height="35" fill="#000"/>
<rect x="827.5" y="341.5" width="4" height="31" fill="#fff" stroke="#000" stroke-width="1"/>
<rect x="837" y="333" width="1" height="25" fill="#000"/>
<rect x="835" y="342" width="5" height="10" fill="#000"/>
<rect x="845" y="345" width="1" height="15" fill="#000"/>
<rect x="843.5" y="350.5" width="4" height="1" fill="#fff" stroke="#000" stroke-width="1"/>
<rect x="853" y="345" width="1" height="35" fill="#000"/>
<rect x="851" y="348" width="5" height="30" fill="#000"/>
<rect x="861" y="384" width="1" height="29" fill="#000"/>
<rect x="859" y="387" width="5" height="18" fill="#000"/>
<rect x="869" y="386" width="1" height="49" fill="#000"/>
<rect x="867" y="403" width="5" height="32" fill="#000"/>
<rect x="877" y="415" width="1" height="47" fill="#000"/>
<rect x="875.5" y="417.5" width="4" height="18" fill="#fff" stroke="#000" stroke-width="1"/>
<rect x="885" y="390" width="1" height="40" fill="#000"/>
<rect x="883" y="417" width="5" height="6" fill="#000"/>
<rect x="893" y="403" width="1" height="49" fill="#000"/>
<rect x="891" y="422" width="5" height="23" fill="#000"/>
<rect x="901" y="441" width="1" height="19" fill="#000"/>
<rect x="899" y="444" width="5" height="3" fill="#000"/>
<rect x="909" y="424" width="1" height="22" fill="#000"/>
<rect x="907.5" y="433.5" width="4" height="7" fill="#fff" stroke="#000" stroke-width="1"/>
<rect x="917" y="363" width="1" height="74" fill="#000"/>
<rect x="915.5" y="365.5" width="4" height="67" fill="#fff" stroke="#000" stroke-width="1"/>
<rect x="925" y="345" width="1" height="35" fill="#000"/>
<rect x="923" y="365" width="5" height="8" fill="#000"/>
<rect x="933" y="357" width="1" height="33" fill="#000"/>
<rect x="931.5" y="358.5" width="4" height="13" fill="#fff" stroke="#000" stroke-width="1"/>
<rect x="941" y="343" width="1" height="20" fill="#000"/>
<rect x="939.5" y="344.5" width="4" height="15" fill="#fff" stroke="#000" stroke-width="1"/>
<rect x="949" y="331" width="1" height="19" fill="#000"/>
<rect x="947.5" y="339.5" width="4" height="4" fill="#fff" stroke="#000" stroke-width="1"/>
<rect x="957" y="344" width="1" height="11" fill="#000"/>
<rect x="955.5" y="344.5" width="4" height="1" fill="#fff" stroke="#000" stroke-width="1"/>
<rect x="965" y="294" width="1" height="55" fill="#000"/>
<rect x="963.5" y="305.5" width="4" height="38" fill="#fff" stroke="#000" stroke-width="1"/>
<rect x="973" y="292" width="1" height="19" fill="#000"/>
<rect x="971" y="304" width="5" height="2" fill="#000"/>
<rect x="981" y="275" width="1" height="42" fill="#000"/>
<rect x="979" y="304" width="5" height="10" fill="#000"/>
<rect x="989" y="302" width="1" height="35" fill="#000"/>
<rect x="987" y="312" width="5" height="25" fill="#000"/>
<rect x="997" y="332" width="1" height="16" fill="#000"/>
<rect x="995" y="335" width="5" height="9" fill="#000"/>
<rect x="1005" y="345" width="1" height="17" fill="#000"/>
<rect x="1003" y="353" width="5" height="4" fill="#000"/>
<rect x="1013" y="293" width="1" height="76" fill="#000"/>
<rect x="1011.5" y="309.5" width="4" height="47" fill="#fff" stroke="#000" stroke-width="1"/>
<rect x="1021" y="299" width="1" height="22" fill="#000"/>
<rect x="1019.5" y="310.5" width="4" height="1" fill="#fff" stroke="#000" stroke-width="1"/>
<rect x="1029" y="310" width="1" height="3" fill="#000"/>
<rect x="1027" y="310" width="5" height="3" fill="#000"/>
<rect x="1037" y="310" width="1" height="14" fill="#000"/>
<rect x="1035" y="311" width="5" height="13" fill="#000"/>
<rect x="1045" y="321" width="1" height="36" fill="#000"/>
<rect x="1043.5" y="323.5" width="4" height="2" fill="#fff" stroke="#000" stroke-width="1"/>
<rect x="1053" y="345" width="1" height="25" fill="#000"/>
<rect x="1051" y="352" width="5" height="14" fill="#000"/>
<rect x="1061" y="356" width="1" height="50" fill="#000"/>
<rect x="1059" y="359" width="5" height="24" fill="#000"/>
<rect x="1069" y="364" width="1" height="24" fill="#000"/>
<rect x="1067.5" y="372.5" width="4" height="10" fill="#fff" stroke="#000" stroke-width="1"/>
<rect x="1077" y="340" width="1" height="35" fill="#000"/>
<rect x="1075.5" y="347.5" width="4" height="25" fill="#fff" stroke="#000" stroke-width="1"/>
<rect x="1085" y="324" width="1" height="43" fill="#000"/>
<rect x="1083.5" y="334.5" width="4" height="12" fill="#fff" stroke="#000" stroke-width="1"/>
<rect x="1093" y="333" width="1" height="38" fill="#000"/>
<rect x="1091" y="334" width="5" height="5" fill="#000"/>
<rect x="1101" y="311" width="1" height="32" fill="#000"/>
<rect x="1099.5" y="314.5" width="4" height="23" fill="#fff" stroke="#000" stroke-width="1"/>
<rect x="1109" y="311" width="1" height="60" fill="#000"/>
<rect x="1107" y="312" width="5" height="26" fill="#000"/>
<rect x="1117" y="316" width="1" height="38" fill="#000"/>
<rect x="1115" y="337" width="5" height="6" fill="#000"/>
<rect x="1125" y="301" width="1" height="51" fill="#000"/>
<rect x="1123.5" y="305.5" width="4" height="38" fill="#fff" stroke="#000" stroke-width="1"/>
<rect x="1133" y="298" width="1" height="16" fill="#000"/>
<rect x="1131.5" y="305.5" width="4" height="1" fill="#fff" stroke="#000" stroke-width="1"/>
<rect x="1141" y="281" width="1" height="24" fill="#000"/>
<rect x="1139.5" y="293.5" width="4" height="11" fill="#fff" stroke="#000" stroke-width="1"/>
<rect x="1149" y="278" width="1" height="20" fill="#000"/>
<rect x="1147.5" y="289.5" width="4" height="2" fill="#fff" stroke="#000" stroke-width="1"/>
<rect x="1157" y="261" width="1" height="59" fill="#000"/>
<rect x="1155" y="291" width="5" height="10" fill="#000"/>
<rect x="1165" y="282" width="1" height="25" fill="#000"/>
<rect x="1163.5" y="283.5" width="4" height="17" fill="#fff" stroke="#000" stroke-width="1"/>
<rect x="1173" y="269" width="1" height="27" fill="#000"/>
<rect x="1171.5" y="281.5" width="4" height="2" fill="#fff" stroke="#000" stroke-width="1"/>
<rect x="1181" y="279" width="1" height="34" fill="#000"/>
<rect x="1179" y="281" width="5" height="32" fill="#000"/>
<rect x="1189" y="287" width="1" height="28" fill="#000"/>
<rect x="1187.5" y="290.5" width="4" height="22" fill="#fff" stroke="#000" stroke-width="1"/>
<rect x="1197" y="274" width="1" height="12" fill="#000"/>
<rect x="1195.5" y="285.5" width="4" height="1" fill="#fff" stroke="#000" stroke-width="1"/>
<rect x="1205" y="229" width="1" height="57" fill="#000"/>
<rect x="1203.5" y="246.5" width="4" height="38" fill="#fff" stroke="#000" stroke-width="1"/>
<rect x="1213" y="206" width="1" height="44" fill="#000"/>
<rect x="1211.5" y="206.5" width="4" height="40" fill="#fff" stroke="#000" stroke-width="1"/>
<rect x="1221" y="197" width="1" height="30" fill="#000"/>
<rect x="1219" y="207" width="5" height="17" fill="#000"/>
<rect x="1229" y="219" width="1" height="75" fill="#000"/>
<rect x="1227" y="223" width="5" height="71" fill="#000"/>
<rect x="1237" y="290" width="1" height="17" fill="#000"/>
<rect x="1235" y="294" width="5" height="8" fill="#000"/>
<rect x="1245" y="301" width="1" height="22" fill="#000"/>
<rect x="1243.5" y="311.5" width="4" height="6" fill="#fff" stroke="#000" stroke-width="1"/>
<rect x="1253" y="307" width="1" height="42" fill="#000"/>
<rect x="1251" y="310" width="5" height="10" fill="#000"/>
<rect x="1261" y="288" width="1" height="40" fill="#000"/>
<rect x="1259.5" y="312.5" width="4" height="5" fill="#fff" stroke="#000" stroke-width="1"/>
<rect x="1269" y="292" width="1" height="45" fill="#000"/>
<rect x="1267" y="313" width="5" height="24" fill="#000"/>
<rect x="1277" y="318" width="1" height="51" fill="#000"/>
<rect x="1275" y="336" width="5" height="33" fill="#000"/>
<rect x="1285" y="343" width="1" height="37" fill="#000"/>
<rect x="1283" y="369" width="5" height="11" fill="#000"/>
<rect x="1293" y="383" width="1" height="24" fill="#000"/>
<rect x="1291" y="384" width="5" height="18" fill="#000"/>
<rect x="1301" y="371" width="1" height="50" fill="#000"/>
<rect x="1299.5" y="389.5" width="4" height="11" fill="#fff" stroke="#000" stroke-width="1"/>
<rect x="1309" y="386" width="1" height="43" fill="#000"/>
<rect x="1307" y="389" width="5" height="35" fill="#000"/>
<rect x="1317" y="382" width="1" height="47" fill="#000"/>
<rect x="1315.5" y="410.5" width="4" height="13" fill="#fff" stroke="#000" stroke-width="1"/>
<rect x="1325" y="370" width="1" height="64" fill="#000"/>
<rect x="1323.5" y="371.5" width="4" height="40" fill="#fff" stroke="#000" stroke-width="1"/>
<rect x="1333" y="357" width="1" height="45" fill="#000"/>
<rect x="1331.5" y="359.5" width="4" height="12" fill="#fff" stroke="#000" stroke-width="1"/>
<rect x="1341" y="349" width="1" height="25" fill="#000"/>
<rect x="1339" y="354" width="5" height="11" fill="#000"/>
<rect x="1349" y="364" width="1" height="39" fill="#000"/>
<rect x="1347" y="366" width="5" height="5" fill="#000"/>
<rect x="1357" y="363" width="1" height="51" fill="#000"/>
<rect x="1355" y="368" width="5" height="39" fill="#000"/>
<rect x="1365" y="405" width="1" height="53" fill="#000"/>
<rect x="1363" y="406" width="5" height="50" fill="#000"/>
<rect x="1373" y="451" width="1" height="27" fill="#000"/>
<rect x="1371" y="456" width="5" height="10" fill="#000"/>
<rect x="1381" y="464" width="1" height="46" fill="#000"/>
<rect x="1379" y="465" width="5" height="43" fill="#000"/>
</g>
<g shape-rendering="crispEdges" clip-path="url(#cMacd)">
<rect x="5" y="624" width="1" height="60" fill="#c0c0c0"/>
<rect x="13" y="618" width="1" height="66" fill="#c0c0c0"/>
<rect x="21" y="615" width="1" height="69" fill="#c0c0c0"/>
<rect x="29" y="611" width="1" height="73" fill="#c0c0c0"/>
<rect x="37" y="609" width="1" height="75" fill="#c0c0c0"/>
<rect x="45" y="610" width="1" height="74" fill="#c0c0c0"/>
<rect x="53" y="609" width="1" height="75" fill="#c0c0c0"/>
<rect x="61" y="606" width="1" height="78" fill="#c0c0c0"/>
<rect x="69" y="600" width="1" height="84" fill="#c0c0c0"/>
<rect x="77" y="595" width="1" height="89" fill="#c0c0c0"/>
<rect x="85" y="591" width="1" height="93" fill="#c0c0c0"/>
<rect x="93" y="590" width="1" height="94" fill="#c0c0c0"/>
<rect x="101" y="588" width="1" height="96" fill="#c0c0c0"/>
<rect x="109" y="587" width="1" height="97" fill="#c0c0c0"/>
<rect x="117" y="588" width="1" height="96" fill="#c0c0c0"/>
<rect x="125" y="593" width="1" height="91" fill="#c0c0c0"/>
<rect x="133" y="595" width="1" height="89" fill="#c0c0c0"/>
<rect x="141" y="600" width="1" height="84" fill="#c0c0c0"/>
<rect x="149" y="604" width="1" height="80" fill="#c0c0c0"/>
<rect x="157" y="602" width="1" height="82" fill="#c0c0c0"/>
<rect x="165" y="600" width="1" height="84" fill="#c0c0c0"/>
<rect x="173" y="599" width="1" height="85" fill="#c0c0c0"/>
<rect x="181" y="599" width="1" height="85" fill="#c0c0c0"/>
<rect x="189" y="598" width="1" height="86" fill="#c0c0c0"/>
<rect x="197" y="596" width="1" height="88" fill="#c0c0c0"/>
<rect x="205" y="597" width="1" height="87" fill="#c0c0c0"/>
<rect x="213" y="600" width="1" height="84" fill="#c0c0c0"/>
<rect x="221" y="604" width="1" height="80" fill="#c0c0c0"/>
<rect x="229" y="610" width="1" height="74" fill="#c0c0c0"/>
<rect x="237" y="615" width="1" height="69" fill="#c0c0c0"/>
<rect x="245" y="615" width="1" height="69" fill="#c0c0c0"/>
<rect x="253" y="613" width="1" height="71" fill="#c0c0c0"/>
<rect x="261" y="612" width="1" height="72" fill="#c0c0c0"/>
<rect x="269" y="608" width="1" height="76" fill="#c0c0c0"/>
<rect x="277" y="604" width="1" height="80" fill="#c0c0c0"/>
<rect x="285" y="603" width="1" height="81" fill="#c0c0c0"/>
<rect x="293" y="609" width="1" height="75" fill="#c0c0c0"/>
<rect x="301" y="609" width="1" height="75" fill="#c0c0c0"/>
<rect x="309" y="611" width="1" height="73" fill="#c0c0c0"/>
<rect x="317" y="613" width="1" height="71" fill="#c0c0c0"/>
<rect x="325" y="614" width="1" height="70" fill="#c0c0c0"/>
<rect x="333" y="616" width="1" height="68" fill="#c0c0c0"/>
<rect x="341" y="622" width="1" height="62" fill="#c0c0c0"/>
<rect x="349" y="628" width="1" height="56" fill="#c0c0c0"/>
<rect x="357" y="631" width="1" height="53" fill="#c0c0c0"/>
<rect x="365" y="635" width="1" height="49" fill="#c0c0c0"/>
<rect x="373" y="638" width="1" height="46" fill="#c0c0c0"/>
<rect x="381" y="640" width="1" height="44" fill="#c0c0c0"/>
<rect x="389" y="643" width="1" height="41" fill="#c0c0c0"/>
<rect x="397" y="647" width="1" height="37" fill="#c0c0c0"/>
<rect x="405" y="645" width="1" height="39" fill="#c0c0c0"/>
<rect x="413" y="640" width="1" height="44" fill="#c0c0c0"/>
<rect x="421" y="639" width="1" height="45" fill="#c0c0c0"/>
<rect x="429" y="638" width="1" height="46" fill="#c0c0c0"/>
<rect x="437" y="647" width="1" height="37" fill="#c0c0c0"/>
<rect x="445" y="652" width="1" height="32" fill="#c0c0c0"/>
<rect x="453" y="655" width="1" height="29" fill="#c0c0c0"/>
<rect x="461" y="662" width="1" height="22" fill="#c0c0c0"/>
<rect x="469" y="666" width="1" height="18" fill="#c0c0c0"/>
<rect x="477" y="672" width="1" height="12" fill="#c0c0c0"/>
<rect x="485" y="674" width="1" height="10" fill="#c0c0c0"/>
<rect x="493" y="676" width="1" height="8" fill="#c0c0c0"/>
<rect x="501" y="679" width="1" height="5" fill="#c0c0c0"/>
<rect x="509" y="684" width="1" height="1" fill="#c0c0c0"/>
<rect x="517" y="684" width="1" height="4" fill="#c0c0c0"/>
<rect x="525" y="684" width="1" height="8" fill="#c0c0c0"/>
<rect x="533" y="684" width="1" height="8" fill="#c0c0c0"/>
<rect x="541" y="684" width="1" height="8" fill="#c0c0c0"/>
<rect x="549" y="684" width="1" height="7" fill="#c0c0c0"/>
<rect x="557" y="684" width="1" height="7" fill="#c0c0c0"/>
<rect x="565" y="684" width="1" height="8" fill="#c0c0c0"/>
<rect x="573" y="684" width="1" height="8" fill="#c0c0c0"/>
<rect x="581" y="684" width="1" height="8" fill="#c0c0c0"/>
<rect x="589" y="684" width="1" height="5" fill="#c0c0c0"/>
<rect x="597" y="684" width="1" height="4" fill="#c0c0c0"/>
<rect x="605" y="684" width="1" height="1" fill="#c0c0c0"/>
<rect x="613" y="681" width="1" height="3" fill="#c0c0c0"/>
<rect x="621" y="679" width="1" height="5" fill="#c0c0c0"/>
<rect x="629" y="682" width="1" height="2" fill="#c0c0c0"/>
<rect x="637" y="684" width="1" height="1" fill="#c0c0c0"/>
<rect x="645" y="684" width="1" height="1" fill="#c0c0c0"/>
<rect x="653" y="684" width="1" height="6" fill="#c0c0c0"/>
<rect x="661" y="684" width="1" height="10" fill="#c0c0c0"/>
<rect x="669" y="684" width="1" height="13" fill="#c0c0c0"/>
<rect x="677" y="684" width="1" height="20" fill="#c0c0c0"/>
<rect x="685" y="684" width="1" height="25" fill="#c0c0c0"/>
<rect x="693" y="684" width="1" height="31" fill="#c0c0c0"/>
<rect x="701" y="684" width="1" height="34" fill="#c0c0c0"/>
<rect x="709" y="684" width="1" height="38" fill="#c0c0c0"/>
<rect x="717" y="684" width="1" height="42" fill="#c0c0c0"/>
<rect x="725" y="684" width="1" height="49" fill="#c0c0c0"/>
<rect x="733" y="684" width="1" height="48" fill="#c0c0c0"/>
<rect x="741" y="684" width="1" height="49" fill="#c0c0c0"/>
<rect x="749" y="684" width="1" height="47" fill="#c0c0c0"/>
<rect x="757" y="684" width="1" height="45" fill="#c0c0c0"/>
<rect x="765" y="684" width="1" height="44" fill="#c0c0c0"/>
<rect x="773" y="684" width="1" height="43" fill="#c0c0c0"/>
<rect x="781" y="684" width="1" height="41" fill="#c0c0c0"/>
<rect x="789" y="684" width="1" height="38" fill="#c0c0c0"/>
<rect x="797" y="684" width="1" height="36" fill="#c0c0c0"/>
<rect x="805" y="684" width="1" height="36" fill="#c0c0c0"/>
<rect x="813" y="684" width="1" height="37" fill="#c0c0c0"/>
<rect x="821" y="684" width="1" height="39" fill="#c0c0c0"/>
<rect x="829" y="684" width="1" height="38" fill="#c0c0c0"/>
<rect x="837" y="684" width="1" height="38" fill="#c0c0c0"/>
<rect x="845" y="684" width="1" height="37" fill="#c0c0c0"/>
<rect x="853" y="684" width="1" height="42" fill="#c0c0c0"/>
<rect x="861" y="684" width="1" height="47" fill="#c0c0c0"/>
<rect x="869" y="684" width="1" height="49" fill="#c0c0c0"/>
<rect x="877" y="684" width="1" height="51" fill="#c0c0c0"/>
<rect x="885" y="684" width="1" height="54" fill="#c0c0c0"/>
<rect x="893" y="684" width="1" height="56" fill="#c0c0c0"/>
<rect x="901" y="684" width="1" height="55" fill="#c0c0c0"/>
<rect x="909" y="684" width="1" height="47" fill="#c0c0c0"/>
<rect x="917" y="684" width="1" height="41" fill="#c0c0c0"/>
<rect x="925" y="684" width="1" height="34" fill="#c0c0c0"/>
<rect x="933" y="684" width="1" height="27" fill="#c0c0c0"/>
<rect x="941" y="684" width="1" height="21" fill="#c0c0c0"/>
<rect x="949" y="684" width="1" height="16" fill="#c0c0c0"/>
<rect x="957" y="684" width="1" height="8" fill="#c0c0c0"/>
<rect x="965" y="684" width="1" height="1" fill="#c0c0c0"/>
<rect x="973" y="684" width="1" height="1" fill="#c0c0c0"/>
<rect x="981" y="682" width="1" height="2" fill="#c0c0c0"/>
<rect x="989" y="682" width="1" height="2" fill="#c0c0c0"/>
<rect x="997" y="683" width="1" height="1" fill="#c0c0c0"/>
<rect x="1005" y="680" width="1" height="4" fill="#c0c0c0"/>
<rect x="1013" y="677" width="1" height="7" fill="#c0c0c0"/>
<rect x="1021" y="675" width="1" height="9" fill="#c0c0c0"/>
<rect x="1029" y="675" width="1" height="9" fill="#c0c0c0"/>
<rect x="1037" y="675" width="1" height="9" fill="#c0c0c0"/>
<rect x="1045" y="678" width="1" height="6" fill="#c0c0c0"/>
<rect x="1053" y="684" width="1" height="2" fill="#c0c0c0"/>
<rect x="1061" y="684" width="1" height="3" fill="#c0c0c0"/>
<rect x="1069" y="684" width="1" height="3" fill="#c0c0c0"/>
<rect x="1077" y="684" width="1" height="1" fill="#c0c0c0"/>
<rect x="1085" y="683" width="1" height="1" fill="#c0c0c0"/>
<rect x="1093" y="682" width="1" height="2" fill="#c0c0c0"/>
<rect x="1101" y="681" width="1" height="3" fill="#c0c0c0"/>
<rect x="1109" y="682" width="1" height="2" fill="#c0c0c0"/>
<rect x="1117" y="683" width="1" height="1" fill="#c0c0c0"/>
<rect x="1125" y="679" width="1" height="5" fill="#c0c0c0"/>
<rect x="1133" y="677" width="1" height="7" fill="#c0c0c0"/>
<rect x="1141" y="674" width="1" height="10" fill="#c0c0c0"/>
<rect x="1149" y="671" width="1" height="13" fill="#c0c0c0"/>
<rect x="1157" y="670" width="1" height="14" fill="#c0c0c0"/>
<rect x="1165" y="668" width="1" height="16" fill="#c0c0c0"/>
<rect x="1173" y="666" width="1" height="18" fill="#c0c0c0"/>
<rect x="1181" y="668" width="1" height="16" fill="#c0c0c0"/>
<rect x="1189" y="667" width="1" height="17" fill="#c0c0c0"/>
<rect x="1197" y="667" width="1" height="17" fill="#c0c0c0"/>
<rect x="1205" y="662" width="1" height="22" fill="#c0c0c0"/>
<rect x="1213" y="655" width="1" height="29" fill="#c0c0c0"/>
<rect x="1221" y="651" width="1" height="33" fill="#c0c0c0"/>
<rect x="1229" y="656" width="1" height="28" fill="#c0c0c0"/>
<rect x="1237" y="662" width="1" height="22" fill="#c0c0c0"/>
<rect x="1245" y="666" width="1" height="18" fill="#c0c0c0"/>
<rect x="1253" y="671" width="1" height="13" fill="#c0c0c0"/>
<rect x="1261" y="675" width="1" height="9" fill="#c0c0c0"/>
<rect x="1269" y="680" width="1" height="4" fill="#c0c0c0"/>
<rect x="1277" y="684" width="1" height="1" fill="#c0c0c0"/>
<rect x="1285" y="684" width="1" height="8" fill="#c0c0c0"/>
<rect x="1293" y="684" width="1" height="17" fill="#c0c0c0"/>
<rect x="1301" y="684" width="1" height="22" fill="#c0c0c0"/>
<rect x="1309" y="684" width="1" height="29" fill="#c0c0c0"/>
<rect x="1317" y="684" width="1" height="32" fill="#c0c0c0"/>
<rect x="1325" y="684" width="1" height="31" fill="#c0c0c0"/>
<rect x="1333" y="684" width="1" height="28" fill="#c0c0c0"/>
<rect x="1341" y="684" width="1" height="26" fill="#c0c0c0"/>
<rect x="1349" y="684" width="1" height="28" fill="#c0c0c0"/>
<rect x="1357" y="684" width="1" height="30" fill="#c0c0c0"/>
<rect x="1365" y="684" width="1" height="33" fill="#c0c0c0"/>
<rect x="1373" y="684" width="1" height="40" fill="#c0c0c0"/>
<rect x="1381" y="684" width="1" height="49" fill="#c0c0c0"/>
</g>
<g clip-path="url(#cMacd)">
<polyline points="0.0,658.5 12.4,647.9 24.8,636.7 37.2,626.8 49.6,620.1 62.0,613.2 74.3,607.5 77.0,608.1 85.0,605.1 93.0,602.3 101.0,599.8 109.0,597.4 117.0,594.9 125.0,593.1 133.0,591.9 141.0,591.9 149.0,592.9 157.0,594.1 165.0,595.2 173.0,596.4 181.0,597.7 189.0,598.9 197.0,599.2 205.0,599.4 213.0,599.4 221.0,599.4 229.0,600.3 237.0,601.9 245.0,603.7 253.0,605.3 261.0,606.8 269.0,608.1 277.0,608.9 285.0,609.3 293.0,609.8 301.0,609.7 309.0,609.3 317.0,609.1 325.0,609.1 333.0,609.6 341.0,611.2 349.0,613.8 357.0,616.9 365.0,619.8 373.0,623.0 381.0,626.3 389.0,629.6 397.0,633.3 405.0,636.5 413.0,638.5 421.0,639.8 429.0,640.6 437.0,641.9 445.0,643.5 453.0,645.1 461.0,647.2 469.0,649.3 477.0,652.3 485.0,656.1 493.0,660.2 501.0,664.7 509.0,668.8 517.0,672.8 525.0,676.9 533.0,680.2 541.0,683.1 549.0,685.2 557.0,687.1 565.0,688.9 573.0,690.4 581.0,691.4 589.0,691.5 597.0,691.1 605.0,690.2 613.0,689.0 621.0,687.6 629.0,686.7 637.0,685.8 645.0,684.9 653.0,684.6 661.0,685.2 669.0,686.1 677.0,688.3 685.0,691.4 693.0,695.4 701.0,699.5 709.0,703.7 717.0,708.3 725.0,713.1 733.0,717.3 741.0,721.3 749.0,724.4 757.0,726.6 765.0,728.0 773.0,729.0 781.0,729.3 789.0,728.7 797.0,727.3 805.0,726.0 813.0,724.6 821.0,723.8 829.0,723.0 837.0,722.4 845.0,721.7 853.0,721.8 861.0,722.9 869.0,724.4 877.0,726.0 885.0,727.9 893.0,729.7 901.0,731.5 909.0,732.5 917.0,732.9 925.0,732.0 933.0,729.8 941.0,726.6 949.0,722.8 957.0,717.7 965.0,711.6 973.0,705.5 981.0,700.1 989.0,695.3 997.0,691.5 1005.0,688.1 1013.0,685.0 1021.0,682.2 1029.0,680.4 1037.0,679.3 1045.0,678.6 1053.0,679.0 1061.0,679.5 1069.0,680.0 1077.0,680.4 1085.0,681.1 1093.0,681.9 1101.0,682.6 1109.0,683.4 1117.0,683.9 1125.0,683.2 1133.0,682.1 1141.0,680.7 1149.0,679.2 1157.0,677.7 1165.0,676.2 1173.0,674.5 1181.0,672.9 1189.0,671.1 1197.0,669.8 1205.0,668.2 1213.0,666.1 1221.0,663.9 1229.0,662.3 1237.0,661.5 1245.0,661.5 1253.0,661.8 1261.0,662.7 1269.0,664.2 1277.0,666.6 1285.0,670.8 1293.0,676.3 1301.0,681.9 1309.0,687.6 1317.0,693.2 1325.0,698.1 1333.0,702.1 1341.0,705.4 1349.0,708.4 1357.0,710.8 1365.0,712.7 1373.0,714.6 1381.0,716.8" fill="none" stroke="#ff0000" stroke-width="1" shape-rendering="crispEdges" stroke-dasharray="3,3"/>
</g>
<text x="1.5" y="591.0" font-size="10" fill="#000" textLength="126.0" lengthAdjust="spacingAndGlyphs" >ACD(12,26,9)&#160;-212.82&#160;-142.28</text>
<rect x="0" y="583" width="1" height="7" fill="#000"/>
<rect x="1649" y="580" width="2" height="1" fill="#000"/>
<text x="1651.5" y="589.0" font-size="10" fill="#000" textLength="29.0" lengthAdjust="spacingAndGlyphs" >457.88</text>
<rect x="1649" y="684" width="2" height="1" fill="#000"/>
<text x="1651.5" y="688.0" font-size="10" fill="#000" textLength="18.5" lengthAdjust="spacingAndGlyphs" >0.00</text>
<rect x="1649" y="747" width="2" height="1" fill="#000"/>
<text x="1651.5" y="745.0" font-size="10" fill="#000" textLength="31.5" lengthAdjust="spacingAndGlyphs" >-276.76</text>
<g shape-rendering="crispEdges">
<line x1="2" y1="786.5" x2="1648" y2="786.5" stroke="#c0c0c0" stroke-width="1" stroke-dasharray="3,3"/>
<line x1="2" y1="837.5" x2="1648" y2="837.5" stroke="#c0c0c0" stroke-width="1" stroke-dasharray="3,3"/>
<line x1="2" y1="898.5" x2="1648" y2="898.5" stroke="#c0c0c0" stroke-width="1" stroke-dasharray="3,3"/>
</g>
<g clip-path="url(#cRsi)">
<polyline points="0.0,801.3 12.4,799.3 21.8,805.0 29.7,800.5 45.8,807.5 53.3,804.5 65.7,795.1 74.3,791.4 83.0,789.4 92.9,789.4 101.6,794.3 109.0,795.1 117.7,793.3 125.1,793.3 133.3,791.4 141.2,807.5 149.9,804.5 158.6,793.8 165.5,790.6 173.4,793.3 181.4,791.4 189.5,791.4 197.5,784.7 205.6,795.1 213.6,804.3 221.8,805.5 229.9,814.4 237.9,813.2 245.3,804.5 254.0,796.3 261.4,796.3 268.8,792.1 276.8,788.1 286.2,793.3 293.6,816.1 301.0,811.2 308.5,807.5 324.6,807.5 333.3,821.1 341.4,825.3 349.4,819.4 358.0,823.1 365.5,821.1 372.9,816.6 381.6,823.1 389.5,828.0 397.7,812.9 406.3,811.2 413.8,808.0 418.7,807.1 424.9,807.1 429.3,808.3 437.3,839.8 453.4,831.4 461.5,842.3 469.5,840.5 477.4,845.5 485.6,837.3 494.2,839.8 501.7,842.5 509.1,849.2 517.8,853.4 525.2,851.2 533.9,843.0 541.3,839.8 549.2,836.3 557.4,842.3 565.6,843.5 573.5,847.2 589.6,839.8 597.8,826.9 605.7,822.4 620.6,826.2 629.3,843.5 636.7,843.5 645.4,851.7 654.0,854.9 661.5,857.4 668.9,859.1 677.1,871.0 685.0,872.7 693.2,879.4 701.9,870.3 709.8,872.7 717.2,877.7 725.2,881.9 733.3,860.3 741.5,867.0 749.4,852.4 757.4,856.1 765.6,850.4 773.5,860.3 781.7,848.5 789.1,847.2 797.8,850.4 806.4,854.1 821.3,864.1 829.4,851.7 837.3,854.2 844.8,853.4 853.4,861.6 860.9,867.0 869.6,873.2 877.5,865.3 884.9,866.5 893.1,871.0 900.5,872.2 909.2,865.3 917.4,839.3 925.3,841.3 934.0,837.3 941.4,832.6 948.8,831.4 957.0,833.1 964.9,821.2 973.1,820.2 981.0,824.4 989.2,833.8 997.2,836.3 1005.1,841.0 1013.3,825.7 1021.2,826.4 1029.4,826.4 1037.5,832.3 1045.0,831.4 1053.6,848.5 1061.6,852.9 1069.0,849.2 1077.7,838.8 1085.1,833.6 1093.0,835.1 1101.2,827.4 1109.4,836.1 1117.3,838.0 1125.3,825.7 1133.4,825.2 1141.6,820.7 1149.0,819.5 1157.5,826.2 1164.9,820.7 1173.1,819.5 1181.2,833.8 1189.2,826.4 1197.1,824.4 1205.3,812.5 1213.5,803.4 1221.4,811.5 1229.3,835.6 1237.4,839.3 1245.4,841.0 1253.5,844.2 1261.5,841.3 1269.6,849.2 1277.1,857.9 1285.0,859.9 1293.2,865.3 1301.4,860.3 1309.3,868.3 1317.5,862.1 1325.4,846.2 1333.6,843.5 1341.5,845.5 1348.9,846.7 1357.6,856.6 1365.0,867.8 1373.2,869.8 1381.1,876.5" fill="none" stroke="#1e90ff" stroke-width="1" shape-rendering="crispEdges" />
</g>
<text x="-0.5" y="763.0" font-size="10" fill="#000" textLength="61.5" lengthAdjust="spacingAndGlyphs" >SI(14)&#160;27.1493</text>
<rect x="1649" y="752" width="2" height="1" fill="#000"/>
<text x="1652.0" y="761.0" font-size="10" fill="#000" textLength="15.5" lengthAdjust="spacingAndGlyphs" >100</text>
<rect x="1649" y="786" width="2" height="1" fill="#000"/>
<text x="1651.5" y="790.0" font-size="10" fill="#000" textLength="10.5" lengthAdjust="spacingAndGlyphs" >80</text>
<rect x="1649" y="837" width="2" height="1" fill="#000"/>
<text x="1651.5" y="841.0" font-size="10" fill="#000" textLength="10.5" lengthAdjust="spacingAndGlyphs" >50</text>
<rect x="1649" y="898" width="2" height="1" fill="#000"/>
<text x="1651.5" y="902.0" font-size="10" fill="#000" textLength="10.5" lengthAdjust="spacingAndGlyphs" >15</text>
<rect x="1649" y="923" width="2" height="1" fill="#000"/>
<text x="1652.0" y="921.0" font-size="10" fill="#000" textLength="5.5" lengthAdjust="spacingAndGlyphs" >0</text>
<g shape-rendering="crispEdges">
<rect x="53" y="925" width="1" height="4" fill="#000"/>
<rect x="117" y="925" width="1" height="4" fill="#000"/>
<rect x="181" y="925" width="1" height="4" fill="#000"/>
<rect x="245" y="925" width="1" height="4" fill="#000"/>
<rect x="309" y="925" width="1" height="4" fill="#000"/>
<rect x="373" y="925" width="1" height="4" fill="#000"/>
<rect x="437" y="925" width="1" height="4" fill="#000"/>
<rect x="501" y="925" width="1" height="4" fill="#000"/>
<rect x="565" y="925" width="1" height="4" fill="#000"/>
<rect x="629" y="925" width="1" height="4" fill="#000"/>
<rect x="693" y="925" width="1" height="4" fill="#000"/>
<rect x="757" y="925" width="1" height="4" fill="#000"/>
<rect x="821" y="925" width="1" height="4" fill="#000"/>
<rect x="885" y="925" width="1" height="4" fill="#000"/>
<rect x="949" y="925" width="1" height="4" fill="#000"/>
<rect x="1013" y="925" width="1" height="4" fill="#000"/>
<rect x="1077" y="925" width="1" height="4" fill="#000"/>
<rect x="1141" y="925" width="1" height="4" fill="#000"/>
<rect x="1205" y="925" width="1" height="4" fill="#000"/>
<rect x="1269" y="925" width="1" height="4" fill="#000"/>
<rect x="1333" y="925" width="1" height="4" fill="#000"/>
</g>
<text x="-11.4" y="937.0" font-size="10" fill="#000" textLength="51.9" lengthAdjust="spacingAndGlyphs" >17&#160;Mar&#160;2022</text>
<text x="52.2" y="937.0" font-size="10" fill="#000" textLength="54.5" lengthAdjust="spacingAndGlyphs" >18&#160;Mar&#160;00:00</text>
<text x="116.2" y="937.0" font-size="10" fill="#000" textLength="54.5" lengthAdjust="spacingAndGlyphs" >21&#160;Mar&#160;10:55</text>
<text x="180.2" y="937.0" font-size="10" fill="#000" textLength="54.5" lengthAdjust="spacingAndGlyphs" >22&#160;Mar&#160;18:55</text>
<text x="244.2" y="937.0" font-size="10" fill="#000" textLength="54.5" lengthAdjust="spacingAndGlyphs" >24&#160;Mar&#160;00:00</text>
<text x="308.2" y="937.0" font-size="10" fill="#000" textLength="54.5" lengthAdjust="spacingAndGlyphs" >25&#160;Mar&#160;10:55</text>
<text x="372.2" y="937.0" font-size="10" fill="#000" textLength="54.5" lengthAdjust="spacingAndGlyphs" >28&#160;Mar&#160;18:55</text>
<text x="436.2" y="937.0" font-size="10" fill="#000" textLength="54.5" lengthAdjust="spacingAndGlyphs" >30&#160;Mar&#160;00:00</text>
<text x="500.2" y="937.0" font-size="10" fill="#000" textLength="54.5" lengthAdjust="spacingAndGlyphs" >31&#160;Mar&#160;10:55</text>
<text x="564.2" y="937.0" font-size="10" fill="#000" textLength="47.3" lengthAdjust="spacingAndGlyphs" >1&#160;Apr&#160;18:55</text>
<text x="628.2" y="937.0" font-size="10" fill="#000" textLength="47.3" lengthAdjust="spacingAndGlyphs" >5&#160;Apr&#160;00:00</text>
<text x="692.2" y="937.0" font-size="10" fill="#000" textLength="47.3" lengthAdjust="spacingAndGlyphs" >6&#160;Apr&#160;10:55</text>
<text x="756.2" y="937.0" font-size="10" fill="#000" textLength="47.3" lengthAdjust="spacingAndGlyphs" >7&#160;Apr&#160;18:55</text>
<text x="820.2" y="937.0" font-size="10" fill="#000" textLength="51.8" lengthAdjust="spacingAndGlyphs" >11&#160;Apr&#160;00:00</text>
<text x="884.2" y="937.0" font-size="10" fill="#000" textLength="52.5" lengthAdjust="spacingAndGlyphs" >12&#160;Apr&#160;10:55</text>
<text x="948.2" y="937.0" font-size="10" fill="#000" textLength="52.5" lengthAdjust="spacingAndGlyphs" >13&#160;Apr&#160;18:55</text>
<text x="1012.2" y="937.0" font-size="10" fill="#000" textLength="52.5" lengthAdjust="spacingAndGlyphs" >15&#160;Apr&#160;00:00</text>
<text x="1076.2" y="937.0" font-size="10" fill="#000" textLength="52.5" lengthAdjust="spacingAndGlyphs" >18&#160;Apr&#160;10:55</text>
<text x="1140.2" y="937.0" font-size="10" fill="#000" textLength="52.5" lengthAdjust="spacingAndGlyphs" >19&#160;Apr&#160;18:55</text>
<text x="1204.2" y="937.0" font-size="10" fill="#000" textLength="52.5" lengthAdjust="spacingAndGlyphs" >21&#160;Apr&#160;00:00</text>
<text x="1268.2" y="937.0" font-size="10" fill="#000" textLength="52.5" lengthAdjust="spacingAndGlyphs" >22&#160;Apr&#160;10:55</text>
<text x="1332.2" y="937.0" font-size="10" fill="#000" textLength="52.5" lengthAdjust="spacingAndGlyphs" >25&#160;Apr&#160;18:55</text>
<rect x="334.5" y="74.5" width="61" height="18" fill="#fff" stroke="#ff0000" stroke-width="1" shape-rendering="crispEdges"/>
<text x="336.0" y="90.0" font-size="16.5" fill="#ff0000" textLength="59.0" lengthAdjust="spacingAndGlyphs" >28395.5</text>
<polyline points="395,83.5 405.5,83.5 405.5,84" fill="none" stroke="#ff0000" stroke-width="1" shape-rendering="crispEdges"/>
<rect x="1150.5" y="187.5" width="61" height="18" fill="#fff" stroke="#ff0000" stroke-width="1" shape-rendering="crispEdges"/>
<text x="1152.0" y="202.5" font-size="16.5" fill="#ff0000" textLength="58.5" lengthAdjust="spacingAndGlyphs" >27749.0</text>
<polyline points="1211,196.5 1221.5,196.5" fill="none" stroke="#ff0000" stroke-width="1" shape-rendering="crispEdges"/>
<rect x="1214.5" y="483.5" width="61" height="18" fill="#fff" stroke="#ff0000" stroke-width="1" shape-rendering="crispEdges"/>
<text x="1216.0" y="499.0" font-size="16.5" fill="#ff0000" textLength="58.0" lengthAdjust="spacingAndGlyphs" >26061.1</text>
<rect x="1276.5" y="490.5" width="2" height="3" fill="#fff" stroke="#ff0000" stroke-width="1" shape-rendering="crispEdges"/>
<rect x="1279" y="492" width="7" height="1" fill="#ff0000" shape-rendering="crispEdges"/>
<rect x="1310.5" y="501.5" width="61" height="18" fill="#fff" stroke="#ff0000" stroke-width="1" shape-rendering="crispEdges"/>
<text x="1312.0" y="517.0" font-size="16.5" fill="#ff0000" textLength="59.0" lengthAdjust="spacingAndGlyphs" >25956.6</text>
<rect x="1372.5" y="508.5" width="2" height="3" fill="#fff" stroke="#ff0000" stroke-width="1" shape-rendering="crispEdges"/>
<rect x="1375" y="510" width="7" height="1" fill="#ff0000" shape-rendering="crispEdges"/>
<line x1="1219.5" y1="214.0" x2="1422.4" y2="523.1" stroke="#ff0000" stroke-width="4" shape-rendering="crispEdges"/>
<polygon points="1426.0,528.5 1415.4,522.3 1422.4,523.1 1424.6,516.3" fill="#ff0000" shape-rendering="crispEdges"/>
<line x1="1285.5" y1="691.2" x2="1411.3" y2="728.6" stroke="#ff0000" stroke-width="4" shape-rendering="crispEdges"/>
<polygon points="1418.0,730.6 1406.1,732.1 1411.3,728.6 1408.8,722.9" fill="#ff0000" shape-rendering="crispEdges"/>
<line x1="1251.5" y1="831.0" x2="1396.2" y2="866.9" stroke="#ff0000" stroke-width="4" shape-rendering="crispEdges"/>
<polygon points="1403.0,868.6 1391.2,870.6 1396.2,866.9 1393.5,861.3" fill="#ff0000" shape-rendering="crispEdges"/>
<path d="M0.3,32.5 l1.6,-1.6 l1.6,1.6 l-1.6,1.6 z" fill="none" stroke="#444" stroke-width="0.9"/>
<text x="3.3" y="35.0" font-size="10" fill="#000" textLength="51.1" lengthAdjust="spacingAndGlyphs" >JPN225-,H4</text>
<text x="59.7" y="35.0" font-size="10" fill="#000" textLength="34.0" lengthAdjust="spacingAndGlyphs" >26215.0</text>
<text x="95.9" y="35.0" font-size="10" fill="#000" textLength="33.3" lengthAdjust="spacingAndGlyphs" >26252.5</text>
<text x="132.0" y="35.0" font-size="10" fill="#000" textLength="33.4" lengthAdjust="spacingAndGlyphs" >25960.0</text>
<text x="167.5" y="35.0" font-size="10" fill="#000" textLength="34.0" lengthAdjust="spacingAndGlyphs" >25975.0</text>
<defs>
<linearGradient id="gTop" x1="0" y1="0" x2="0" y2="1"><stop offset="0" stop-color="#f65a5a"/><stop offset="1" stop-color="#e23a3c"/></linearGradient>
<linearGradient id="gBot" x1="0" y1="0" x2="0" y2="1"><stop offset="0" stop-color="#dd3030"/><stop offset="1" stop-color="#b00008"/></linearGradient>
<linearGradient id="gBtn" x1="0" y1="0" x2="0" y2="1"><stop offset="0" stop-color="#f4f4f4"/><stop offset="1" stop-color="#d4d4d4"/></linearGradient>
</defs>
<g shape-rendering="crispEdges">
<rect x="0" y="43" width="44" height="24" fill="url(#gTop)"/>
<rect x="0" y="43" width="44" height="1" fill="#c41a1a"/>
<rect x="43" y="43" width="1" height="24" fill="#c41a1a"/>
<rect x="159" y="43" width="52" height="24" fill="url(#gTop)"/>
<rect x="159" y="43" width="52" height="1" fill="#c41a1a"/>
<rect x="159" y="43" width="1" height="24" fill="#c41a1a"/>
<rect x="0" y="67" width="101" height="33" fill="url(#gBot)"/>
<rect x="103" y="67" width="108" height="33" fill="url(#gBot)"/>
<rect x="0" y="66" width="40" height="1" fill="#8e0a0a"/>
<rect x="0" y="67" width="40" height="1" fill="#f07070"/>
<rect x="163" y="66" width="44" height="1" fill="#8e0a0a"/>
<rect x="163" y="67" width="44" height="1" fill="#f07070"/>
<rect x="44" y="43" width="115" height="24" fill="#ffffff"/>
<rect x="46.5" y="43.5" width="110" height="20" fill="#fff" stroke="#a9acb4" stroke-width="1"/>
<rect x="47" y="44" width="20" height="19" fill="url(#gBtn)"/>
<rect x="67" y="44" width="1" height="19" fill="#a9acb4"/>
<rect x="136" y="44" width="20" height="19" fill="url(#gBtn)"/>
<rect x="135" y="44" width="1" height="19" fill="#a9acb4"/>
</g>
<polygon points="54,52.5 59.5,52.5 56.75,55.5" fill="#4a64c8"/>
<polygon points="143,55.5 148.5,55.5 145.75,52.5" fill="#4a64c8"/>
<text x="107.8" y="58.0" font-size="13" fill="#000" textLength="25.0" lengthAdjust="spacingAndGlyphs" >1.00</text>
<text x="3.8" y="59.0" font-size="12.5" fill="#fff" textLength="26.5" lengthAdjust="spacingAndGlyphs" >SELL</text>
<text x="172.0" y="59.0" font-size="12.5" fill="#fff" textLength="24.5" lengthAdjust="spacingAndGlyphs" >BUY</text>
<text x="7.6" y="95.0" font-size="11.5" fill="#fff" textLength="35.5" lengthAdjust="spacingAndGlyphs" font-weight="bold">25973</text>
<text x="117.6" y="95.0" font-size="11.5" fill="#fff" textLength="35.5" lengthAdjust="spacingAndGlyphs" font-weight="bold">25996</text>
<rect x="47.6" y="90.7" width="3.8" height="3.8" fill="#fff"/>
<rect x="158.5" y="90.7" width="3.8" height="3.8" fill="#fff"/>
<defs><linearGradient id="gBotU" gradientUnits="userSpaceOnUse" x1="0" y1="67" x2="0" y2="100"><stop offset="0" stop-color="#dd3030"/><stop offset="1" stop-color="#b00008"/></linearGradient></defs>
<text x="53.6" y="95.0" font-size="33" fill="#fff" textLength="16.5" lengthAdjust="spacingAndGlyphs" >5</text>
<text x="53.6" y="95.0" font-size="33" fill="none" textLength="16.5" lengthAdjust="spacingAndGlyphs" stroke="url(#gBotU)" stroke-width="0.6">5</text>
<text x="164.6" y="95.0" font-size="33" fill="#fff" textLength="16.5" lengthAdjust="spacingAndGlyphs" >5</text>
<text x="164.6" y="95.0" font-size="33" fill="none" textLength="16.5" lengthAdjust="spacingAndGlyphs" stroke="url(#gBotU)" stroke-width="0.6">5</text>
</svg></body></html>
